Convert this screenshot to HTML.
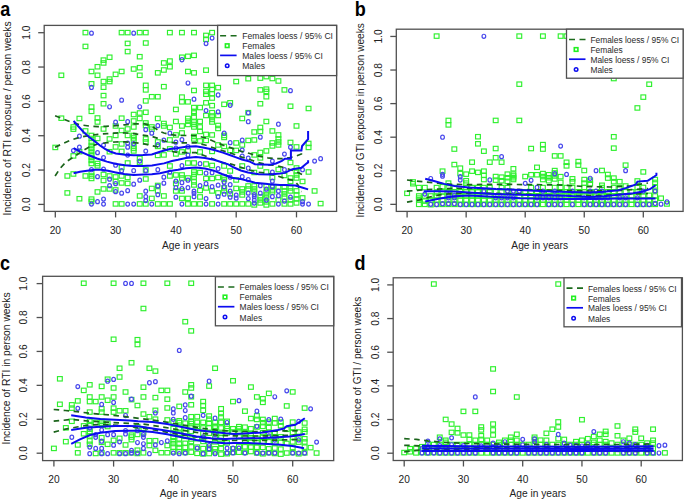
<!DOCTYPE html>
<html><head><meta charset="utf-8"><style>
html,body{margin:0;padding:0;background:#fff;width:685px;height:501px;overflow:hidden}
svg{display:block;font-family:"Liberation Sans", sans-serif}
</style></head><body>
<svg width="685" height="501" viewBox="0 0 685 501">
<rect width="685" height="501" fill="#fff"/>
<g fill="none" stroke="#2ef02e" stroke-width="1.15"><rect x="83.05" y="30.4" width="4.8" height="4.4"/><rect x="119.23" y="30.4" width="4.8" height="4.4"/><rect x="125.26" y="30.4" width="4.8" height="4.4"/><rect x="137.32" y="30.4" width="4.8" height="4.4"/><rect x="125.26" y="41.21" width="4.8" height="4.4"/><rect x="83.05" y="44.24" width="4.8" height="4.4"/><rect x="125.26" y="49.37" width="4.8" height="4.4"/><rect x="107.17" y="55.05" width="4.8" height="4.4"/><rect x="137.32" y="54.49" width="4.8" height="4.4"/><rect x="101.14" y="57.9" width="4.8" height="4.4"/><rect x="101.14" y="60.75" width="4.8" height="4.4"/><rect x="95.11" y="64.55" width="4.8" height="4.4"/><rect x="131.29" y="66.81" width="4.8" height="4.4"/><rect x="137.32" y="65.49" width="4.8" height="4.4"/><rect x="89.08" y="69.29" width="4.8" height="4.4"/><rect x="119.23" y="69.29" width="4.8" height="4.4"/><rect x="113.2" y="72.14" width="4.8" height="4.4"/><rect x="58.93" y="73.08" width="4.8" height="4.4"/><rect x="95.11" y="73.08" width="4.8" height="4.4"/><rect x="137.32" y="73.08" width="4.8" height="4.4"/><rect x="107.17" y="76.88" width="4.8" height="4.4"/><rect x="101.14" y="79.35" width="4.8" height="4.4"/><rect x="107.17" y="79.35" width="4.8" height="4.4"/><rect x="89.08" y="81.62" width="4.8" height="4.4"/><rect x="101.14" y="85.03" width="4.8" height="4.4"/><rect x="101.14" y="93.39" width="4.8" height="4.4"/><rect x="101.14" y="101.55" width="4.8" height="4.4"/><rect x="89.08" y="104.78" width="4.8" height="4.4"/><rect x="89.08" y="109.14" width="4.8" height="4.4"/><rect x="143.35" y="30.4" width="4.8" height="4.4"/><rect x="167.47" y="30.4" width="4.8" height="4.4"/><rect x="179.53" y="30.4" width="4.8" height="4.4"/><rect x="191.59" y="30.4" width="4.8" height="4.4"/><rect x="209.68" y="30.4" width="4.8" height="4.4"/><rect x="203.65" y="33.23" width="4.8" height="4.4"/><rect x="203.65" y="37.02" width="4.8" height="4.4"/><rect x="143.35" y="40.82" width="4.8" height="4.4"/><rect x="179.53" y="55.05" width="4.8" height="4.4"/><rect x="185.56" y="54.11" width="4.8" height="4.4"/><rect x="191.59" y="53.16" width="4.8" height="4.4"/><rect x="161.44" y="60.75" width="4.8" height="4.4"/><rect x="167.47" y="58.85" width="4.8" height="4.4"/><rect x="167.47" y="64.55" width="4.8" height="4.4"/><rect x="161.44" y="67.78" width="4.8" height="4.4"/><rect x="155.41" y="70.63" width="4.8" height="4.4"/><rect x="185.56" y="69.29" width="4.8" height="4.4"/><rect x="191.59" y="70.63" width="4.8" height="4.4"/><rect x="203.65" y="67.96" width="4.8" height="4.4"/><rect x="143.35" y="83.14" width="4.8" height="4.4"/><rect x="143.35" y="87.69" width="4.8" height="4.4"/><rect x="161.44" y="84.47" width="4.8" height="4.4"/><rect x="203.65" y="83.14" width="4.8" height="4.4"/><rect x="209.68" y="83.14" width="4.8" height="4.4"/><rect x="215.71" y="85.43" width="4.8" height="4.4"/><rect x="209.68" y="87.32" width="4.8" height="4.4"/><rect x="203.65" y="89.22" width="4.8" height="4.4"/><rect x="203.65" y="92.05" width="4.8" height="4.4"/><rect x="209.68" y="91.49" width="4.8" height="4.4"/><rect x="191.59" y="88.26" width="4.8" height="4.4"/><rect x="149.38" y="94.53" width="4.8" height="4.4"/><rect x="155.41" y="94.53" width="4.8" height="4.4"/><rect x="143.35" y="98.7" width="4.8" height="4.4"/><rect x="179.53" y="94.9" width="4.8" height="4.4"/><rect x="179.53" y="99.64" width="4.8" height="4.4"/><rect x="185.56" y="99.64" width="4.8" height="4.4"/><rect x="209.68" y="95.85" width="4.8" height="4.4"/><rect x="203.65" y="100.61" width="4.8" height="4.4"/><rect x="221.74" y="102.12" width="4.8" height="4.4"/><rect x="227.77" y="100.61" width="4.8" height="4.4"/><rect x="173.5" y="107.23" width="4.8" height="4.4"/><rect x="191.59" y="105.34" width="4.8" height="4.4"/><rect x="191.59" y="109.14" width="4.8" height="4.4"/><rect x="197.62" y="105.34" width="4.8" height="4.4"/><rect x="209.68" y="103.44" width="4.8" height="4.4"/><rect x="143.35" y="110.08" width="4.8" height="4.4"/><rect x="209.68" y="110.46" width="4.8" height="4.4"/><rect x="233.8" y="79.35" width="4.8" height="4.4"/><rect x="245.86" y="76.5" width="4.8" height="4.4"/><rect x="257.92" y="75.93" width="4.8" height="4.4"/><rect x="263.95" y="74.42" width="4.8" height="4.4"/><rect x="269.98" y="76.31" width="4.8" height="4.4"/><rect x="276.01" y="78.78" width="4.8" height="4.4"/><rect x="257.92" y="87.69" width="4.8" height="4.4"/><rect x="263.95" y="86.94" width="4.8" height="4.4"/><rect x="263.95" y="89.22" width="4.8" height="4.4"/><rect x="263.95" y="94.53" width="4.8" height="4.4"/><rect x="282.04" y="87.69" width="4.8" height="4.4"/><rect x="257.92" y="101.55" width="4.8" height="4.4"/><rect x="288.07" y="104.02" width="4.8" height="4.4"/><rect x="306.16" y="106.29" width="4.8" height="4.4"/><rect x="245.86" y="110.46" width="4.8" height="4.4"/><rect x="58.93" y="115.99" width="4.8" height="4.4"/><rect x="77.02" y="116.28" width="4.8" height="4.4"/><rect x="70.99" y="124.76" width="4.8" height="4.4"/><rect x="70.99" y="126.96" width="4.8" height="4.4"/><rect x="83.05" y="128.76" width="4.8" height="4.4"/><rect x="52.9" y="145.23" width="4.8" height="4.4"/><rect x="77.02" y="149.52" width="4.8" height="4.4"/><rect x="70.99" y="153.71" width="4.8" height="4.4"/><rect x="89.08" y="133.25" width="4.8" height="4.4"/><rect x="89.08" y="136.25" width="4.8" height="4.4"/><rect x="89.08" y="140.23" width="4.8" height="4.4"/><rect x="89.08" y="143.24" width="4.8" height="4.4"/><rect x="89.08" y="146.23" width="4.8" height="4.4"/><rect x="89.08" y="149.21" width="4.8" height="4.4"/><rect x="89.08" y="152.22" width="4.8" height="4.4"/><rect x="89.08" y="155.21" width="4.8" height="4.4"/><rect x="89.08" y="158.21" width="4.8" height="4.4"/><rect x="95.11" y="115.78" width="4.8" height="4.4"/><rect x="95.11" y="119.78" width="4.8" height="4.4"/><rect x="95.11" y="136.25" width="4.8" height="4.4"/><rect x="101.14" y="126.77" width="4.8" height="4.4"/><rect x="107.17" y="136.75" width="4.8" height="4.4"/><rect x="107.17" y="149.52" width="4.8" height="4.4"/><rect x="113.2" y="123.77" width="4.8" height="4.4"/><rect x="113.2" y="133.25" width="4.8" height="4.4"/><rect x="113.2" y="144.73" width="4.8" height="4.4"/><rect x="119.23" y="115.99" width="4.8" height="4.4"/><rect x="119.23" y="128.27" width="4.8" height="4.4"/><rect x="119.23" y="141.74" width="4.8" height="4.4"/><rect x="119.23" y="149.21" width="4.8" height="4.4"/><rect x="125.26" y="126.77" width="4.8" height="4.4"/><rect x="125.26" y="133.25" width="4.8" height="4.4"/><rect x="64.96" y="173.77" width="4.8" height="4.4"/><rect x="70.99" y="171.77" width="4.8" height="4.4"/><rect x="83.05" y="173.77" width="4.8" height="4.4"/><rect x="64.96" y="190.73" width="4.8" height="4.4"/><rect x="77.02" y="196.53" width="4.8" height="4.4"/><rect x="89.08" y="161.3" width="4.8" height="4.4"/><rect x="89.08" y="170.28" width="4.8" height="4.4"/><rect x="89.08" y="173.77" width="4.8" height="4.4"/><rect x="89.08" y="176.27" width="4.8" height="4.4"/><rect x="89.08" y="196.93" width="4.8" height="4.4"/><rect x="89.08" y="199.23" width="4.8" height="4.4"/><rect x="95.11" y="161.3" width="4.8" height="4.4"/><rect x="95.11" y="163.58" width="4.8" height="4.4"/><rect x="95.11" y="189.73" width="4.8" height="4.4"/><rect x="101.14" y="172.27" width="4.8" height="4.4"/><rect x="101.14" y="178.27" width="4.8" height="4.4"/><rect x="101.14" y="186.75" width="4.8" height="4.4"/><rect x="107.17" y="173.77" width="4.8" height="4.4"/><rect x="107.17" y="186.75" width="4.8" height="4.4"/><rect x="113.2" y="174.76" width="4.8" height="4.4"/><rect x="113.2" y="179.26" width="4.8" height="4.4"/><rect x="113.2" y="187.74" width="4.8" height="4.4"/><rect x="113.2" y="201.72" width="4.8" height="4.4"/><rect x="119.23" y="165.28" width="4.8" height="4.4"/><rect x="119.23" y="173.77" width="4.8" height="4.4"/><rect x="119.23" y="180.75" width="4.8" height="4.4"/><rect x="119.23" y="201.72" width="4.8" height="4.4"/><rect x="125.26" y="160.8" width="4.8" height="4.4"/><rect x="125.26" y="175.28" width="4.8" height="4.4"/><rect x="125.26" y="181.25" width="4.8" height="4.4"/><rect x="131.29" y="112.3" width="4.8" height="4.4"/><rect x="131.29" y="118.79" width="4.8" height="4.4"/><rect x="131.29" y="124.76" width="4.8" height="4.4"/><rect x="131.29" y="133.25" width="4.8" height="4.4"/><rect x="131.29" y="135.75" width="4.8" height="4.4"/><rect x="131.29" y="138.24" width="4.8" height="4.4"/><rect x="131.29" y="143.74" width="4.8" height="4.4"/><rect x="131.29" y="146.23" width="4.8" height="4.4"/><rect x="131.29" y="148.72" width="4.8" height="4.4"/><rect x="137.32" y="110.8" width="4.8" height="4.4"/><rect x="137.32" y="116.28" width="4.8" height="4.4"/><rect x="137.32" y="156.2" width="4.8" height="4.4"/><rect x="143.35" y="120.78" width="4.8" height="4.4"/><rect x="143.35" y="123.27" width="4.8" height="4.4"/><rect x="143.35" y="136.75" width="4.8" height="4.4"/><rect x="143.35" y="139.74" width="4.8" height="4.4"/><rect x="149.38" y="124.76" width="4.8" height="4.4"/><rect x="149.38" y="126.96" width="4.8" height="4.4"/><rect x="155.41" y="116.28" width="4.8" height="4.4"/><rect x="155.41" y="139.74" width="4.8" height="4.4"/><rect x="155.41" y="144.23" width="4.8" height="4.4"/><rect x="155.41" y="153.21" width="4.8" height="4.4"/><rect x="161.44" y="121.28" width="4.8" height="4.4"/><rect x="161.44" y="123.77" width="4.8" height="4.4"/><rect x="161.44" y="152.72" width="4.8" height="4.4"/><rect x="167.47" y="125.26" width="4.8" height="4.4"/><rect x="167.47" y="137.74" width="4.8" height="4.4"/><rect x="167.47" y="146.72" width="4.8" height="4.4"/><rect x="173.5" y="119.29" width="4.8" height="4.4"/><rect x="173.5" y="132.75" width="4.8" height="4.4"/><rect x="173.5" y="151.72" width="4.8" height="4.4"/><rect x="137.32" y="160.31" width="4.8" height="4.4"/><rect x="137.32" y="193.74" width="4.8" height="4.4"/><rect x="137.32" y="201.72" width="4.8" height="4.4"/><rect x="143.35" y="167.79" width="4.8" height="4.4"/><rect x="143.35" y="176.77" width="4.8" height="4.4"/><rect x="143.35" y="201.72" width="4.8" height="4.4"/><rect x="149.38" y="186.25" width="4.8" height="4.4"/><rect x="149.38" y="196.22" width="4.8" height="4.4"/><rect x="155.41" y="183.26" width="4.8" height="4.4"/><rect x="155.41" y="188.74" width="4.8" height="4.4"/><rect x="155.41" y="201.72" width="4.8" height="4.4"/><rect x="161.44" y="193.74" width="4.8" height="4.4"/><rect x="161.44" y="201.72" width="4.8" height="4.4"/><rect x="167.47" y="163.79" width="4.8" height="4.4"/><rect x="167.47" y="173.77" width="4.8" height="4.4"/><rect x="167.47" y="201.72" width="4.8" height="4.4"/><rect x="173.5" y="172.77" width="4.8" height="4.4"/><rect x="173.5" y="181.25" width="4.8" height="4.4"/><rect x="173.5" y="188.74" width="4.8" height="4.4"/><rect x="179.53" y="123.77" width="4.8" height="4.4"/><rect x="179.53" y="130.76" width="4.8" height="4.4"/><rect x="179.53" y="149.73" width="4.8" height="4.4"/><rect x="185.56" y="116.28" width="4.8" height="4.4"/><rect x="185.56" y="118.98" width="4.8" height="4.4"/><rect x="185.56" y="122.27" width="4.8" height="4.4"/><rect x="185.56" y="148.72" width="4.8" height="4.4"/><rect x="191.59" y="110.8" width="4.8" height="4.4"/><rect x="191.59" y="114.79" width="4.8" height="4.4"/><rect x="191.59" y="119.78" width="4.8" height="4.4"/><rect x="191.59" y="122.27" width="4.8" height="4.4"/><rect x="191.59" y="124.76" width="4.8" height="4.4"/><rect x="191.59" y="134.26" width="4.8" height="4.4"/><rect x="191.59" y="136.75" width="4.8" height="4.4"/><rect x="197.62" y="119.29" width="4.8" height="4.4"/><rect x="197.62" y="124.76" width="4.8" height="4.4"/><rect x="197.62" y="129.26" width="4.8" height="4.4"/><rect x="197.62" y="138.74" width="4.8" height="4.4"/><rect x="197.62" y="149.73" width="4.8" height="4.4"/><rect x="203.65" y="113.29" width="4.8" height="4.4"/><rect x="203.65" y="132.25" width="4.8" height="4.4"/><rect x="203.65" y="138.24" width="4.8" height="4.4"/><rect x="209.68" y="113.79" width="4.8" height="4.4"/><rect x="209.68" y="117.28" width="4.8" height="4.4"/><rect x="209.68" y="119.78" width="4.8" height="4.4"/><rect x="209.68" y="132.75" width="4.8" height="4.4"/><rect x="209.68" y="149.21" width="4.8" height="4.4"/><rect x="215.71" y="113.29" width="4.8" height="4.4"/><rect x="215.71" y="123.27" width="4.8" height="4.4"/><rect x="215.71" y="126.27" width="4.8" height="4.4"/><rect x="215.71" y="142.74" width="4.8" height="4.4"/><rect x="221.74" y="135.25" width="4.8" height="4.4"/><rect x="179.53" y="172.77" width="4.8" height="4.4"/><rect x="179.53" y="175.78" width="4.8" height="4.4"/><rect x="179.53" y="188.74" width="4.8" height="4.4"/><rect x="179.53" y="196.22" width="4.8" height="4.4"/><rect x="185.56" y="160.8" width="4.8" height="4.4"/><rect x="185.56" y="175.78" width="4.8" height="4.4"/><rect x="185.56" y="196.22" width="4.8" height="4.4"/><rect x="185.56" y="201.72" width="4.8" height="4.4"/><rect x="191.59" y="160.8" width="4.8" height="4.4"/><rect x="191.59" y="169.78" width="4.8" height="4.4"/><rect x="191.59" y="172.27" width="4.8" height="4.4"/><rect x="191.59" y="174.76" width="4.8" height="4.4"/><rect x="191.59" y="179.76" width="4.8" height="4.4"/><rect x="191.59" y="182.75" width="4.8" height="4.4"/><rect x="191.59" y="201.72" width="4.8" height="4.4"/><rect x="197.62" y="170.28" width="4.8" height="4.4"/><rect x="197.62" y="188.24" width="4.8" height="4.4"/><rect x="197.62" y="194.73" width="4.8" height="4.4"/><rect x="197.62" y="201.72" width="4.8" height="4.4"/><rect x="203.65" y="161.8" width="4.8" height="4.4"/><rect x="203.65" y="176.27" width="4.8" height="4.4"/><rect x="203.65" y="185.75" width="4.8" height="4.4"/><rect x="209.68" y="163.29" width="4.8" height="4.4"/><rect x="209.68" y="176.27" width="4.8" height="4.4"/><rect x="209.68" y="188.74" width="4.8" height="4.4"/><rect x="209.68" y="201.72" width="4.8" height="4.4"/><rect x="215.71" y="175.28" width="4.8" height="4.4"/><rect x="215.71" y="190.73" width="4.8" height="4.4"/><rect x="221.74" y="188.74" width="4.8" height="4.4"/><rect x="221.74" y="133.25" width="4.8" height="4.4"/><rect x="221.74" y="144.23" width="4.8" height="4.4"/><rect x="227.77" y="148.22" width="4.8" height="4.4"/><rect x="233.8" y="140.73" width="4.8" height="4.4"/><rect x="233.8" y="148.22" width="4.8" height="4.4"/><rect x="239.83" y="116.28" width="4.8" height="4.4"/><rect x="239.83" y="142.74" width="4.8" height="4.4"/><rect x="245.86" y="138.24" width="4.8" height="4.4"/><rect x="251.89" y="129.76" width="4.8" height="4.4"/><rect x="251.89" y="137.74" width="4.8" height="4.4"/><rect x="251.89" y="152.72" width="4.8" height="4.4"/><rect x="257.92" y="125.26" width="4.8" height="4.4"/><rect x="257.92" y="129.26" width="4.8" height="4.4"/><rect x="257.92" y="150.23" width="4.8" height="4.4"/><rect x="257.92" y="155.7" width="4.8" height="4.4"/><rect x="263.95" y="119.29" width="4.8" height="4.4"/><rect x="263.95" y="148.72" width="4.8" height="4.4"/><rect x="221.74" y="163.79" width="4.8" height="4.4"/><rect x="221.74" y="174.76" width="4.8" height="4.4"/><rect x="221.74" y="177.27" width="4.8" height="4.4"/><rect x="221.74" y="185.75" width="4.8" height="4.4"/><rect x="221.74" y="201.72" width="4.8" height="4.4"/><rect x="227.77" y="168.79" width="4.8" height="4.4"/><rect x="227.77" y="191.74" width="4.8" height="4.4"/><rect x="227.77" y="201.72" width="4.8" height="4.4"/><rect x="233.8" y="177.77" width="4.8" height="4.4"/><rect x="233.8" y="186.25" width="4.8" height="4.4"/><rect x="233.8" y="201.72" width="4.8" height="4.4"/><rect x="239.83" y="163.79" width="4.8" height="4.4"/><rect x="239.83" y="186.75" width="4.8" height="4.4"/><rect x="239.83" y="189.73" width="4.8" height="4.4"/><rect x="239.83" y="192.74" width="4.8" height="4.4"/><rect x="239.83" y="201.72" width="4.8" height="4.4"/><rect x="245.86" y="183.76" width="4.8" height="4.4"/><rect x="245.86" y="186.75" width="4.8" height="4.4"/><rect x="245.86" y="201.72" width="4.8" height="4.4"/><rect x="251.89" y="170.28" width="4.8" height="4.4"/><rect x="251.89" y="183.76" width="4.8" height="4.4"/><rect x="251.89" y="186.75" width="4.8" height="4.4"/><rect x="251.89" y="189.73" width="4.8" height="4.4"/><rect x="251.89" y="202.72" width="4.8" height="4.4"/><rect x="257.92" y="163.79" width="4.8" height="4.4"/><rect x="257.92" y="194.73" width="4.8" height="4.4"/><rect x="257.92" y="197.72" width="4.8" height="4.4"/><rect x="257.92" y="200.72" width="4.8" height="4.4"/><rect x="263.95" y="169.78" width="4.8" height="4.4"/><rect x="263.95" y="183.76" width="4.8" height="4.4"/><rect x="263.95" y="189.73" width="4.8" height="4.4"/><rect x="263.95" y="192.74" width="4.8" height="4.4"/><rect x="263.95" y="195.73" width="4.8" height="4.4"/><rect x="263.95" y="199.73" width="4.8" height="4.4"/><rect x="263.95" y="202.72" width="4.8" height="4.4"/><rect x="269.98" y="189.73" width="4.8" height="4.4"/><rect x="269.98" y="128.76" width="4.8" height="4.4"/><rect x="269.98" y="140.73" width="4.8" height="4.4"/><rect x="269.98" y="143.74" width="4.8" height="4.4"/><rect x="276.01" y="132.75" width="4.8" height="4.4"/><rect x="276.01" y="136.75" width="4.8" height="4.4"/><rect x="276.01" y="139.74" width="4.8" height="4.4"/><rect x="276.01" y="142.74" width="4.8" height="4.4"/><rect x="288.07" y="140.23" width="4.8" height="4.4"/><rect x="294.1" y="123.77" width="4.8" height="4.4"/><rect x="294.1" y="144.73" width="4.8" height="4.4"/><rect x="306.16" y="141.23" width="4.8" height="4.4"/><rect x="306.16" y="145.23" width="4.8" height="4.4"/><rect x="269.98" y="175.28" width="4.8" height="4.4"/><rect x="269.98" y="184.76" width="4.8" height="4.4"/><rect x="269.98" y="187.74" width="4.8" height="4.4"/><rect x="269.98" y="201.72" width="4.8" height="4.4"/><rect x="276.01" y="167.29" width="4.8" height="4.4"/><rect x="276.01" y="184.76" width="4.8" height="4.4"/><rect x="276.01" y="197.72" width="4.8" height="4.4"/><rect x="282.04" y="173.27" width="4.8" height="4.4"/><rect x="282.04" y="184.76" width="4.8" height="4.4"/><rect x="282.04" y="188.74" width="4.8" height="4.4"/><rect x="282.04" y="191.74" width="4.8" height="4.4"/><rect x="282.04" y="194.73" width="4.8" height="4.4"/><rect x="282.04" y="201.72" width="4.8" height="4.4"/><rect x="288.07" y="160.31" width="4.8" height="4.4"/><rect x="288.07" y="175.78" width="4.8" height="4.4"/><rect x="288.07" y="179.26" width="4.8" height="4.4"/><rect x="288.07" y="185.75" width="4.8" height="4.4"/><rect x="288.07" y="188.74" width="4.8" height="4.4"/><rect x="288.07" y="197.72" width="4.8" height="4.4"/><rect x="288.07" y="201.72" width="4.8" height="4.4"/><rect x="294.1" y="165.78" width="4.8" height="4.4"/><rect x="294.1" y="169.29" width="4.8" height="4.4"/><rect x="294.1" y="172.77" width="4.8" height="4.4"/><rect x="294.1" y="175.78" width="4.8" height="4.4"/><rect x="294.1" y="188.74" width="4.8" height="4.4"/><rect x="294.1" y="192.74" width="4.8" height="4.4"/><rect x="294.1" y="196.72" width="4.8" height="4.4"/><rect x="294.1" y="200.72" width="4.8" height="4.4"/><rect x="300.13" y="179.26" width="4.8" height="4.4"/><rect x="300.13" y="195.73" width="4.8" height="4.4"/><rect x="306.16" y="169.78" width="4.8" height="4.4"/><rect x="312.19" y="188.74" width="4.8" height="4.4"/><rect x="318.22" y="201.39" width="4.8" height="4.4"/></g>
<g fill="none" stroke="#4848ec" stroke-width="1.2"><ellipse cx="91.48" cy="33.17" rx="1.85" ry="2.05"/><ellipse cx="133.69" cy="33.17" rx="1.85" ry="2.05"/><ellipse cx="91.48" cy="87.43" rx="1.85" ry="2.05"/><ellipse cx="121.63" cy="100.15" rx="1.85" ry="2.05"/><ellipse cx="109.57" cy="106.8" rx="1.85" ry="2.05"/><ellipse cx="139.72" cy="106.8" rx="1.85" ry="2.05"/><ellipse cx="212.08" cy="38.1" rx="1.85" ry="2.05"/><ellipse cx="206.05" cy="43.61" rx="1.85" ry="2.05"/><ellipse cx="181.93" cy="59.74" rx="1.85" ry="2.05"/><ellipse cx="187.96" cy="83.07" rx="1.85" ry="2.05"/><ellipse cx="218.11" cy="95.02" rx="1.85" ry="2.05"/><ellipse cx="193.99" cy="99.21" rx="1.85" ry="2.05"/><ellipse cx="230.17" cy="105.27" rx="1.85" ry="2.05"/><ellipse cx="206.05" cy="110.59" rx="1.85" ry="2.05"/><ellipse cx="218.11" cy="111.92" rx="1.85" ry="2.05"/><ellipse cx="290.47" cy="90.66" rx="1.85" ry="2.05"/><ellipse cx="248.26" cy="112.86" rx="1.85" ry="2.05"/><ellipse cx="79.42" cy="136.16" rx="1.85" ry="2.05"/><ellipse cx="79.42" cy="147.13" rx="1.85" ry="2.05"/><ellipse cx="73.39" cy="150.62" rx="1.85" ry="2.05"/><ellipse cx="103.54" cy="145.14" rx="1.85" ry="2.05"/><ellipse cx="97.51" cy="152.63" rx="1.85" ry="2.05"/><ellipse cx="103.54" cy="157.61" rx="1.85" ry="2.05"/><ellipse cx="115.6" cy="122.18" rx="1.85" ry="2.05"/><ellipse cx="127.66" cy="121.69" rx="1.85" ry="2.05"/><ellipse cx="127.66" cy="143.13" rx="1.85" ry="2.05"/><ellipse cx="127.66" cy="147.13" rx="1.85" ry="2.05"/><ellipse cx="127.66" cy="155.12" rx="1.85" ry="2.05"/><ellipse cx="91.48" cy="169.69" rx="1.85" ry="2.05"/><ellipse cx="91.48" cy="204.12" rx="1.85" ry="2.05"/><ellipse cx="97.51" cy="176.66" rx="1.85" ry="2.05"/><ellipse cx="97.51" cy="201.63" rx="1.85" ry="2.05"/><ellipse cx="103.54" cy="169.18" rx="1.85" ry="2.05"/><ellipse cx="103.54" cy="199.12" rx="1.85" ry="2.05"/><ellipse cx="103.54" cy="204.12" rx="1.85" ry="2.05"/><ellipse cx="109.57" cy="179.17" rx="1.85" ry="2.05"/><ellipse cx="109.57" cy="185.66" rx="1.85" ry="2.05"/><ellipse cx="115.6" cy="165.19" rx="1.85" ry="2.05"/><ellipse cx="115.6" cy="183.65" rx="1.85" ry="2.05"/><ellipse cx="115.6" cy="191.64" rx="1.85" ry="2.05"/><ellipse cx="121.63" cy="170.69" rx="1.85" ry="2.05"/><ellipse cx="121.63" cy="193.13" rx="1.85" ry="2.05"/><ellipse cx="127.66" cy="190.64" rx="1.85" ry="2.05"/><ellipse cx="127.66" cy="204.12" rx="1.85" ry="2.05"/><ellipse cx="133.69" cy="143.63" rx="1.85" ry="2.05"/><ellipse cx="139.72" cy="161.11" rx="1.85" ry="2.05"/><ellipse cx="145.75" cy="129.67" rx="1.85" ry="2.05"/><ellipse cx="145.75" cy="151.12" rx="1.85" ry="2.05"/><ellipse cx="151.78" cy="133.16" rx="1.85" ry="2.05"/><ellipse cx="157.81" cy="125.67" rx="1.85" ry="2.05"/><ellipse cx="157.81" cy="144.64" rx="1.85" ry="2.05"/><ellipse cx="163.84" cy="140.14" rx="1.85" ry="2.05"/><ellipse cx="169.87" cy="133.16" rx="1.85" ry="2.05"/><ellipse cx="175.9" cy="142.14" rx="1.85" ry="2.05"/><ellipse cx="175.9" cy="148.13" rx="1.85" ry="2.05"/><ellipse cx="133.69" cy="170.69" rx="1.85" ry="2.05"/><ellipse cx="133.69" cy="184.15" rx="1.85" ry="2.05"/><ellipse cx="133.69" cy="204.12" rx="1.85" ry="2.05"/><ellipse cx="139.72" cy="180.17" rx="1.85" ry="2.05"/><ellipse cx="145.75" cy="170.69" rx="1.85" ry="2.05"/><ellipse cx="145.75" cy="191.14" rx="1.85" ry="2.05"/><ellipse cx="145.75" cy="196.63" rx="1.85" ry="2.05"/><ellipse cx="145.75" cy="200.62" rx="1.85" ry="2.05"/><ellipse cx="151.78" cy="204.12" rx="1.85" ry="2.05"/><ellipse cx="157.81" cy="169.69" rx="1.85" ry="2.05"/><ellipse cx="157.81" cy="186.16" rx="1.85" ry="2.05"/><ellipse cx="157.81" cy="194.64" rx="1.85" ry="2.05"/><ellipse cx="163.84" cy="177.16" rx="1.85" ry="2.05"/><ellipse cx="163.84" cy="183.15" rx="1.85" ry="2.05"/><ellipse cx="169.87" cy="172.18" rx="1.85" ry="2.05"/><ellipse cx="175.9" cy="181.16" rx="1.85" ry="2.05"/><ellipse cx="175.9" cy="187.65" rx="1.85" ry="2.05"/><ellipse cx="175.9" cy="197.13" rx="1.85" ry="2.05"/><ellipse cx="181.93" cy="139.65" rx="1.85" ry="2.05"/><ellipse cx="187.96" cy="146.63" rx="1.85" ry="2.05"/><ellipse cx="187.96" cy="155.12" rx="1.85" ry="2.05"/><ellipse cx="224.14" cy="133.16" rx="1.85" ry="2.05"/><ellipse cx="181.93" cy="165.69" rx="1.85" ry="2.05"/><ellipse cx="181.93" cy="182.66" rx="1.85" ry="2.05"/><ellipse cx="181.93" cy="188.65" rx="1.85" ry="2.05"/><ellipse cx="181.93" cy="204.12" rx="1.85" ry="2.05"/><ellipse cx="187.96" cy="180.17" rx="1.85" ry="2.05"/><ellipse cx="187.96" cy="187.65" rx="1.85" ry="2.05"/><ellipse cx="193.99" cy="191.14" rx="1.85" ry="2.05"/><ellipse cx="193.99" cy="193.34" rx="1.85" ry="2.05"/><ellipse cx="193.99" cy="196.63" rx="1.85" ry="2.05"/><ellipse cx="200.02" cy="163.7" rx="1.85" ry="2.05"/><ellipse cx="200.02" cy="185.66" rx="1.85" ry="2.05"/><ellipse cx="206.05" cy="173.18" rx="1.85" ry="2.05"/><ellipse cx="206.05" cy="183.65" rx="1.85" ry="2.05"/><ellipse cx="206.05" cy="198.62" rx="1.85" ry="2.05"/><ellipse cx="206.05" cy="204.12" rx="1.85" ry="2.05"/><ellipse cx="212.08" cy="172.68" rx="1.85" ry="2.05"/><ellipse cx="212.08" cy="186.66" rx="1.85" ry="2.05"/><ellipse cx="218.11" cy="168.68" rx="1.85" ry="2.05"/><ellipse cx="218.11" cy="185.15" rx="1.85" ry="2.05"/><ellipse cx="218.11" cy="196.63" rx="1.85" ry="2.05"/><ellipse cx="218.11" cy="204.12" rx="1.85" ry="2.05"/><ellipse cx="224.14" cy="182.16" rx="1.85" ry="2.05"/><ellipse cx="224.14" cy="186.66" rx="1.85" ry="2.05"/><ellipse cx="224.14" cy="194.14" rx="1.85" ry="2.05"/><ellipse cx="230.17" cy="142.63" rx="1.85" ry="2.05"/><ellipse cx="242.23" cy="140.14" rx="1.85" ry="2.05"/><ellipse cx="242.23" cy="150.12" rx="1.85" ry="2.05"/><ellipse cx="242.23" cy="156.11" rx="1.85" ry="2.05"/><ellipse cx="248.26" cy="121.69" rx="1.85" ry="2.05"/><ellipse cx="248.26" cy="158.1" rx="1.85" ry="2.05"/><ellipse cx="260.32" cy="137.16" rx="1.85" ry="2.05"/><ellipse cx="230.17" cy="177.16" rx="1.85" ry="2.05"/><ellipse cx="230.17" cy="184.65" rx="1.85" ry="2.05"/><ellipse cx="230.17" cy="191.14" rx="1.85" ry="2.05"/><ellipse cx="230.17" cy="197.13" rx="1.85" ry="2.05"/><ellipse cx="236.2" cy="195.14" rx="1.85" ry="2.05"/><ellipse cx="236.2" cy="198.13" rx="1.85" ry="2.05"/><ellipse cx="242.23" cy="176.66" rx="1.85" ry="2.05"/><ellipse cx="248.26" cy="168.18" rx="1.85" ry="2.05"/><ellipse cx="248.26" cy="179.67" rx="1.85" ry="2.05"/><ellipse cx="248.26" cy="193.13" rx="1.85" ry="2.05"/><ellipse cx="248.26" cy="198.62" rx="1.85" ry="2.05"/><ellipse cx="254.29" cy="194.64" rx="1.85" ry="2.05"/><ellipse cx="254.29" cy="196.63" rx="1.85" ry="2.05"/><ellipse cx="254.29" cy="200.12" rx="1.85" ry="2.05"/><ellipse cx="254.29" cy="203.12" rx="1.85" ry="2.05"/><ellipse cx="260.32" cy="185.66" rx="1.85" ry="2.05"/><ellipse cx="260.32" cy="193.13" rx="1.85" ry="2.05"/><ellipse cx="266.35" cy="189.15" rx="1.85" ry="2.05"/><ellipse cx="266.35" cy="200.12" rx="1.85" ry="2.05"/><ellipse cx="272.38" cy="196.63" rx="1.85" ry="2.05"/><ellipse cx="278.41" cy="124.18" rx="1.85" ry="2.05"/><ellipse cx="284.44" cy="154.12" rx="1.85" ry="2.05"/><ellipse cx="290.47" cy="147.13" rx="1.85" ry="2.05"/><ellipse cx="314.59" cy="161.11" rx="1.85" ry="2.05"/><ellipse cx="272.38" cy="161.11" rx="1.85" ry="2.05"/><ellipse cx="272.38" cy="172.18" rx="1.85" ry="2.05"/><ellipse cx="272.38" cy="181.16" rx="1.85" ry="2.05"/><ellipse cx="272.38" cy="186.66" rx="1.85" ry="2.05"/><ellipse cx="278.41" cy="191.14" rx="1.85" ry="2.05"/><ellipse cx="278.41" cy="195.64" rx="1.85" ry="2.05"/><ellipse cx="278.41" cy="204.12" rx="1.85" ry="2.05"/><ellipse cx="284.44" cy="169.69" rx="1.85" ry="2.05"/><ellipse cx="284.44" cy="201.11" rx="1.85" ry="2.05"/><ellipse cx="290.47" cy="197.13" rx="1.85" ry="2.05"/><ellipse cx="302.53" cy="169.69" rx="1.85" ry="2.05"/><ellipse cx="302.53" cy="201.63" rx="1.85" ry="2.05"/><ellipse cx="302.53" cy="204.12" rx="1.85" ry="2.05"/><ellipse cx="308.56" cy="204.12" rx="1.85" ry="2.05"/><ellipse cx="320.62" cy="158.7" rx="1.85" ry="2.05"/></g>
<polyline points="55.1,115.8 62,118.5 71,122 79.9,124.8 89,126 97.9,126.6 106,126.3 115.8,125.7 125,124.8 133.8,123.9 144.6,123.9 150,125.5 155.4,128.4 160,131.5 164,133 170,134.5 178,135.5 186,135.5 195.9,135.5 206.7,138.2 213,141 219.3,143.6 225,146 231.9,148.1 240,151 249.8,153.5 257,155.8 267.8,157.8 276,158.7 282,158.7 290,157.5 295.4,156.4 301.4,154 301.4,152" fill="none" stroke="#1a631a" stroke-width="1.7" stroke-dasharray="5.5 4.5"/>
<polyline points="55.1,147.2 62,144 71,140 80,137.3 89,135.5 98,134.3 106.9,133.7 114,133.2 121.2,132.8 127,133 133.8,133.7 142,135 151.8,136.4 158,138.5 164,141 170,142.5 178,143 186,142.9 195.9,142.7 205,145 214,148 222,150.5 231.9,153.5 240,156.5 249.8,159.5 258,162.5 267.8,164.8 276,165.4 282,167 290,169.5 296,171.5 303,175" fill="none" stroke="#1a631a" stroke-width="1.7" stroke-dasharray="5.5 4.5"/>
<polyline points="55.1,176 60,168.5 66,162 76.3,155.3 83,150.5 90.7,146.3 98,144 106.9,142.7 115,142 124.8,141.8 133,142.5 142.8,143.6 151,145.5 159,147.2 166,149.5 172,151.5 178,152.5 186,152.6 195.9,152.6 204,155.5 213,159 222,162.5 231.9,164.3 240,167 249.8,170 258,172.3 267.8,173.3 276,175.5 284,178 289.4,179.7 294,180.4 298,185 300,191 301.4,191.6" fill="none" stroke="#1a631a" stroke-width="1.7" stroke-dasharray="5.5 4.5"/>
<polyline points="73.6,120.8 78,126 83.5,132 89,137 94.3,140.9 100,145.5 105,149 110,151.5 115.8,153.5 125,154.8 133.8,155.3 143,155 151.8,154.4 160,151.7 170,149 178,148.1 186,146.8 195.9,146.3 203,147.5 210.3,149 216,150.5 222.9,152.6 229,154.8 235.4,157.1 242,159.5 249.8,161.6 255,164.2 262,164.5 270,164.7 276,163.5 281.9,160.9 284.9,158.7 290.9,158.7 290.9,150.5 301.4,150.5 302.1,146 308.1,139.2 308.1,131" fill="none" stroke="#0c0cf0" stroke-width="2.0"/>
<polyline points="73.6,148.1 80,151.5 88.9,155.3 97,158.5 106.9,161.6 115,163.8 124.8,165.2 133,166 142.8,166.1 152,165.5 164,163.4 172,161 178,159.8 186,158 195.9,157.1 205,158 213.9,159.8 221,162 228.3,164.3 234,167.5 240.8,170.5 248,172.5 258.8,174.2 270,174.4 280,173.5 284.9,172.9 292.4,169.2 301.4,167.7 305.9,164 308.1,162.4 308.1,160.2" fill="none" stroke="#0c0cf0" stroke-width="2.0"/>
<polyline points="73.6,173.3 80,171.8 88.9,170.6 95,169.8 101.5,169.7 108,170.8 115.8,172.4 124,174 133.8,175 143,174.6 151.8,174.2 160,173.3 170,171 178,169.7 186,168.2 195.9,167.5 205,168.5 213.9,170.6 222,174 231.9,177.7 240,178.9 249.8,181.3 255,182.7 267.8,184 280,184.9 285,184.9 295.4,185.6 302,187.5 308.1,189.4" fill="none" stroke="#0c0cf0" stroke-width="2.0"/>
<rect x="44.2" y="25.4" width="292.4" height="186" fill="none" stroke="#505050" stroke-width="1.3"/>
<line x1="38.2" x2="44.2" y1="204.4" y2="204.4" stroke="#505050" stroke-width="1.3"/>
<text x="30" y="204.4" transform="rotate(-90 30 204.4)" text-anchor="middle" font-size="10.2" textLength="14.18" lengthAdjust="spacingAndGlyphs" fill="#222222">0.0</text>
<line x1="38.2" x2="44.2" y1="170.06" y2="170.06" stroke="#505050" stroke-width="1.3"/>
<text x="30" y="170.06" transform="rotate(-90 30 170.06)" text-anchor="middle" font-size="10.2" textLength="14.18" lengthAdjust="spacingAndGlyphs" fill="#222222">0.2</text>
<line x1="38.2" x2="44.2" y1="135.72" y2="135.72" stroke="#505050" stroke-width="1.3"/>
<text x="30" y="135.72" transform="rotate(-90 30 135.72)" text-anchor="middle" font-size="10.2" textLength="14.18" lengthAdjust="spacingAndGlyphs" fill="#222222">0.4</text>
<line x1="38.2" x2="44.2" y1="101.38" y2="101.38" stroke="#505050" stroke-width="1.3"/>
<text x="30" y="101.38" transform="rotate(-90 30 101.38)" text-anchor="middle" font-size="10.2" textLength="14.18" lengthAdjust="spacingAndGlyphs" fill="#222222">0.6</text>
<line x1="38.2" x2="44.2" y1="67.04" y2="67.04" stroke="#505050" stroke-width="1.3"/>
<text x="30" y="67.04" transform="rotate(-90 30 67.04)" text-anchor="middle" font-size="10.2" textLength="14.18" lengthAdjust="spacingAndGlyphs" fill="#222222">0.8</text>
<line x1="38.2" x2="44.2" y1="32.7" y2="32.7" stroke="#505050" stroke-width="1.3"/>
<text x="30" y="32.7" transform="rotate(-90 30 32.7)" text-anchor="middle" font-size="10.2" textLength="14.18" lengthAdjust="spacingAndGlyphs" fill="#222222">1.0</text>
<line x1="55.3" x2="55.3" y1="211.4" y2="217.4" stroke="#505050" stroke-width="1.3"/>
<text x="55.3" y="233.6" text-anchor="middle" font-size="11.32" textLength="11.34" lengthAdjust="spacingAndGlyphs" fill="#222222">20</text>
<line x1="115.6" x2="115.6" y1="211.4" y2="217.4" stroke="#505050" stroke-width="1.3"/>
<text x="115.6" y="233.6" text-anchor="middle" font-size="11.32" textLength="11.34" lengthAdjust="spacingAndGlyphs" fill="#222222">30</text>
<line x1="175.9" x2="175.9" y1="211.4" y2="217.4" stroke="#505050" stroke-width="1.3"/>
<text x="175.9" y="233.6" text-anchor="middle" font-size="11.32" textLength="11.34" lengthAdjust="spacingAndGlyphs" fill="#222222">40</text>
<line x1="236.2" x2="236.2" y1="211.4" y2="217.4" stroke="#505050" stroke-width="1.3"/>
<text x="236.2" y="233.6" text-anchor="middle" font-size="11.32" textLength="11.34" lengthAdjust="spacingAndGlyphs" fill="#222222">50</text>
<line x1="296.5" x2="296.5" y1="211.4" y2="217.4" stroke="#505050" stroke-width="1.3"/>
<text x="296.5" y="233.6" text-anchor="middle" font-size="11.32" textLength="11.34" lengthAdjust="spacingAndGlyphs" fill="#222222">60</text>
<text x="190.4" y="248.8" text-anchor="middle" font-size="11.32" textLength="56.69" lengthAdjust="spacingAndGlyphs" fill="#222222">Age in years</text>
<text x="11.3" y="118.4" transform="rotate(-90 11.3 118.4)" text-anchor="middle" font-size="10.4" textLength="194.03" lengthAdjust="spacingAndGlyphs" fill="#222222">Incidence of RTI exposure / person weeks</text>
<text x="0.3" y="15.8" font-size="19.6" font-weight="bold" textLength="10.03" lengthAdjust="spacingAndGlyphs" fill="#000">a</text>
<rect x="217.6" y="25.4" width="119" height="50.2" fill="#fff" stroke="#505050" stroke-width="1.3"/>
<line x1="220.1" x2="237.1" y1="35.7" y2="35.7" stroke="#1d6b1d" stroke-width="1.6" stroke-dasharray="6 4.5"/>
<rect x="225.4" y="43.9" width="3.6" height="3.6" fill="none" stroke="#22f022" stroke-width="1.6"/>
<line x1="220.1" x2="236.6" y1="55.4" y2="55.4" stroke="#0c0cf0" stroke-width="1.7"/>
<circle cx="227.2" cy="65.8" r="1.75" fill="none" stroke="#0c0cf0" stroke-width="1.5"/>
<text x="242.2" y="39.1" font-size="9.55" textLength="90.81" lengthAdjust="spacingAndGlyphs" fill="#2a2a2a">Females loess / 95% CI</text>
<text x="242.2" y="49.1" font-size="9.55" textLength="32.97" lengthAdjust="spacingAndGlyphs" fill="#2a2a2a">Females</text>
<text x="242.2" y="58.8" font-size="9.55" textLength="80.77" lengthAdjust="spacingAndGlyphs" fill="#2a2a2a">Males loess / 95% CI</text>
<text x="242.2" y="69.2" font-size="9.55" textLength="22.94" lengthAdjust="spacingAndGlyphs" fill="#2a2a2a">Males</text>
<g fill="none" stroke="#2ef02e" stroke-width="1.15"><rect x="434.23" y="33.9" width="4.8" height="4.4"/><rect x="516.9" y="33.9" width="4.8" height="4.4"/><rect x="540.51" y="33.9" width="4.8" height="4.4"/><rect x="558.23" y="33.9" width="4.8" height="4.4"/><rect x="564.14" y="33.9" width="4.8" height="4.4"/><rect x="516.9" y="81.98" width="4.8" height="4.4"/><rect x="446.04" y="118.23" width="4.8" height="4.4"/><rect x="446.04" y="122.7" width="4.8" height="4.4"/><rect x="493.28" y="118.23" width="4.8" height="4.4"/><rect x="516.9" y="118.23" width="4.8" height="4.4"/><rect x="475.56" y="134.52" width="4.8" height="4.4"/><rect x="475.56" y="141.62" width="4.8" height="4.4"/><rect x="451.94" y="146.88" width="4.8" height="4.4"/><rect x="481.47" y="148.98" width="4.8" height="4.4"/><rect x="493.28" y="146.34" width="4.8" height="4.4"/><rect x="528.71" y="146.34" width="4.8" height="4.4"/><rect x="540.51" y="142.41" width="4.8" height="4.4"/><rect x="540.51" y="146.88" width="4.8" height="4.4"/><rect x="552.33" y="153.71" width="4.8" height="4.4"/><rect x="558.23" y="153.71" width="4.8" height="4.4"/><rect x="493.28" y="155.54" width="4.8" height="4.4"/><rect x="611.38" y="76.34" width="4.8" height="4.4"/><rect x="646.81" y="82.03" width="4.8" height="4.4"/><rect x="640.9" y="94.93" width="4.8" height="4.4"/><rect x="635" y="105.74" width="4.8" height="4.4"/><rect x="611.38" y="134.57" width="4.8" height="4.4"/><rect x="611.38" y="145.95" width="4.8" height="4.4"/><rect x="451.94" y="162.37" width="4.8" height="4.4"/><rect x="440.13" y="168.96" width="4.8" height="4.4"/><rect x="410.61" y="179.74" width="4.8" height="4.4"/><rect x="410.61" y="181.53" width="4.8" height="4.4"/><rect x="404.7" y="191.12" width="4.8" height="4.4"/><rect x="416.51" y="195.9" width="4.8" height="4.4"/><rect x="416.51" y="197.7" width="4.8" height="4.4"/><rect x="422.42" y="198.91" width="4.8" height="4.4"/><rect x="434.23" y="190.51" width="4.8" height="4.4"/><rect x="440.13" y="184.54" width="4.8" height="4.4"/><rect x="446.04" y="180.94" width="4.8" height="4.4"/><rect x="446.04" y="185.73" width="4.8" height="4.4"/><rect x="428.32" y="202.5" width="4.8" height="4.4"/><rect x="440.13" y="194.11" width="4.8" height="4.4"/><rect x="457.85" y="165.97" width="4.8" height="4.4"/><rect x="457.85" y="171.36" width="4.8" height="4.4"/><rect x="463.75" y="171.96" width="4.8" height="4.4"/><rect x="463.75" y="178.54" width="4.8" height="4.4"/><rect x="463.75" y="180.94" width="4.8" height="4.4"/><rect x="469.66" y="159.97" width="4.8" height="4.4"/><rect x="469.66" y="168.96" width="4.8" height="4.4"/><rect x="475.56" y="170.17" width="4.8" height="4.4"/><rect x="481.47" y="168.96" width="4.8" height="4.4"/><rect x="481.47" y="173.15" width="4.8" height="4.4"/><rect x="481.47" y="177.35" width="4.8" height="4.4"/><rect x="487.37" y="159.97" width="4.8" height="4.4"/><rect x="493.28" y="174.35" width="4.8" height="4.4"/><rect x="493.28" y="177.94" width="4.8" height="4.4"/><rect x="499.18" y="159.97" width="4.8" height="4.4"/><rect x="499.18" y="174.95" width="4.8" height="4.4"/><rect x="499.18" y="178.54" width="4.8" height="4.4"/><rect x="505.09" y="171.96" width="4.8" height="4.4"/><rect x="505.09" y="175.55" width="4.8" height="4.4"/><rect x="505.09" y="179.15" width="4.8" height="4.4"/><rect x="510.99" y="166.57" width="4.8" height="4.4"/><rect x="510.99" y="171.96" width="4.8" height="4.4"/><rect x="510.99" y="173.76" width="4.8" height="4.4"/><rect x="510.99" y="175.55" width="4.8" height="4.4"/><rect x="510.99" y="177.35" width="4.8" height="4.4"/><rect x="522.8" y="174.35" width="4.8" height="4.4"/><rect x="528.71" y="172.55" width="4.8" height="4.4"/><rect x="534.61" y="165.13" width="4.8" height="4.4"/><rect x="534.61" y="172.55" width="4.8" height="4.4"/><rect x="540.51" y="171.36" width="4.8" height="4.4"/><rect x="540.51" y="174.35" width="4.8" height="4.4"/><rect x="540.51" y="177.35" width="4.8" height="4.4"/><rect x="546.42" y="172.55" width="4.8" height="4.4"/><rect x="546.42" y="175.55" width="4.8" height="4.4"/><rect x="546.42" y="178.54" width="4.8" height="4.4"/><rect x="552.33" y="168.37" width="4.8" height="4.4"/><rect x="552.33" y="170.75" width="4.8" height="4.4"/><rect x="552.33" y="173.76" width="4.8" height="4.4"/><rect x="552.33" y="176.75" width="4.8" height="4.4"/><rect x="564.14" y="160.07" width="4.8" height="4.4"/><rect x="564.14" y="163.67" width="4.8" height="4.4"/><rect x="575.95" y="159.37" width="4.8" height="4.4"/><rect x="575.95" y="162.96" width="4.8" height="4.4"/><rect x="581.85" y="168.27" width="4.8" height="4.4"/><rect x="599.57" y="168.27" width="4.8" height="4.4"/><rect x="605.47" y="172.3" width="4.8" height="4.4"/><rect x="605.47" y="175.89" width="4.8" height="4.4"/><rect x="611.38" y="175.89" width="4.8" height="4.4"/><rect x="611.38" y="179.48" width="4.8" height="4.4"/><rect x="617.28" y="179.48" width="4.8" height="4.4"/><rect x="623.19" y="162.96" width="4.8" height="4.4"/><rect x="558.23" y="174.45" width="4.8" height="4.4"/><rect x="558.23" y="180.21" width="4.8" height="4.4"/><rect x="570.04" y="176.61" width="4.8" height="4.4"/><rect x="570.04" y="179.48" width="4.8" height="4.4"/><rect x="581.85" y="177.33" width="4.8" height="4.4"/><rect x="581.85" y="180.93" width="4.8" height="4.4"/><rect x="587.75" y="178.04" width="4.8" height="4.4"/><rect x="587.75" y="181.63" width="4.8" height="4.4"/><rect x="599.57" y="183.08" width="4.8" height="4.4"/><rect x="640.9" y="169.71" width="4.8" height="4.4"/><rect x="623.19" y="183.8" width="4.8" height="4.4"/><rect x="635" y="178.76" width="4.8" height="4.4"/><rect x="640.9" y="185.24" width="4.8" height="4.4"/><rect x="652.71" y="177.33" width="4.8" height="4.4"/><rect x="652.71" y="180.21" width="4.8" height="4.4"/><rect x="652.71" y="188.11" width="4.8" height="4.4"/><rect x="658.62" y="196.02" width="4.8" height="4.4"/><rect x="664.52" y="201.76" width="4.8" height="4.4"/><rect x="646.81" y="193.13" width="4.8" height="4.4"/><rect x="416.51" y="202.15" width="4.8" height="4.4"/><rect x="416.51" y="193.75" width="4.8" height="4.4"/><rect x="416.51" y="185.36" width="4.8" height="4.4"/><rect x="422.42" y="202.15" width="4.8" height="4.4"/><rect x="422.42" y="193.75" width="4.8" height="4.4"/><rect x="422.42" y="185.36" width="4.8" height="4.4"/><rect x="428.32" y="197.95" width="4.8" height="4.4"/><rect x="428.32" y="193.75" width="4.8" height="4.4"/><rect x="434.23" y="202.15" width="4.8" height="4.4"/><rect x="434.23" y="197.95" width="4.8" height="4.4"/><rect x="434.23" y="193.75" width="4.8" height="4.4"/><rect x="434.23" y="185.36" width="4.8" height="4.4"/><rect x="440.13" y="202.15" width="4.8" height="4.4"/><rect x="440.13" y="197.95" width="4.8" height="4.4"/><rect x="440.13" y="189.56" width="4.8" height="4.4"/><rect x="446.04" y="202.15" width="4.8" height="4.4"/><rect x="446.04" y="197.95" width="4.8" height="4.4"/><rect x="446.04" y="193.75" width="4.8" height="4.4"/><rect x="446.04" y="189.56" width="4.8" height="4.4"/><rect x="451.94" y="202.15" width="4.8" height="4.4"/><rect x="451.94" y="197.95" width="4.8" height="4.4"/><rect x="451.94" y="193.75" width="4.8" height="4.4"/><rect x="451.94" y="189.56" width="4.8" height="4.4"/><rect x="451.94" y="185.36" width="4.8" height="4.4"/><rect x="457.85" y="202.15" width="4.8" height="4.4"/><rect x="457.85" y="197.95" width="4.8" height="4.4"/><rect x="457.85" y="193.75" width="4.8" height="4.4"/><rect x="457.85" y="189.56" width="4.8" height="4.4"/><rect x="463.75" y="202.15" width="4.8" height="4.4"/><rect x="463.75" y="197.95" width="4.8" height="4.4"/><rect x="463.75" y="193.75" width="4.8" height="4.4"/><rect x="463.75" y="189.56" width="4.8" height="4.4"/><rect x="463.75" y="185.36" width="4.8" height="4.4"/><rect x="469.66" y="202.15" width="4.8" height="4.4"/><rect x="469.66" y="197.95" width="4.8" height="4.4"/><rect x="469.66" y="193.75" width="4.8" height="4.4"/><rect x="469.66" y="189.56" width="4.8" height="4.4"/><rect x="469.66" y="185.36" width="4.8" height="4.4"/><rect x="475.56" y="202.15" width="4.8" height="4.4"/><rect x="475.56" y="197.95" width="4.8" height="4.4"/><rect x="475.56" y="193.75" width="4.8" height="4.4"/><rect x="475.56" y="189.56" width="4.8" height="4.4"/><rect x="475.56" y="185.36" width="4.8" height="4.4"/><rect x="481.47" y="202.15" width="4.8" height="4.4"/><rect x="481.47" y="197.95" width="4.8" height="4.4"/><rect x="481.47" y="193.75" width="4.8" height="4.4"/><rect x="481.47" y="189.56" width="4.8" height="4.4"/><rect x="481.47" y="185.36" width="4.8" height="4.4"/><rect x="487.37" y="202.15" width="4.8" height="4.4"/><rect x="487.37" y="197.95" width="4.8" height="4.4"/><rect x="487.37" y="193.75" width="4.8" height="4.4"/><rect x="487.37" y="189.56" width="4.8" height="4.4"/><rect x="487.37" y="185.36" width="4.8" height="4.4"/><rect x="493.28" y="202.15" width="4.8" height="4.4"/><rect x="493.28" y="197.95" width="4.8" height="4.4"/><rect x="493.28" y="193.75" width="4.8" height="4.4"/><rect x="493.28" y="189.56" width="4.8" height="4.4"/><rect x="499.18" y="202.15" width="4.8" height="4.4"/><rect x="499.18" y="197.95" width="4.8" height="4.4"/><rect x="499.18" y="193.75" width="4.8" height="4.4"/><rect x="499.18" y="189.56" width="4.8" height="4.4"/><rect x="499.18" y="185.36" width="4.8" height="4.4"/><rect x="505.09" y="202.15" width="4.8" height="4.4"/><rect x="505.09" y="197.95" width="4.8" height="4.4"/><rect x="505.09" y="193.75" width="4.8" height="4.4"/><rect x="505.09" y="189.56" width="4.8" height="4.4"/><rect x="505.09" y="185.36" width="4.8" height="4.4"/><rect x="510.99" y="202.15" width="4.8" height="4.4"/><rect x="510.99" y="197.95" width="4.8" height="4.4"/><rect x="510.99" y="193.75" width="4.8" height="4.4"/><rect x="510.99" y="189.56" width="4.8" height="4.4"/><rect x="516.9" y="202.15" width="4.8" height="4.4"/><rect x="516.9" y="197.95" width="4.8" height="4.4"/><rect x="516.9" y="193.75" width="4.8" height="4.4"/><rect x="516.9" y="189.56" width="4.8" height="4.4"/><rect x="522.8" y="202.15" width="4.8" height="4.4"/><rect x="522.8" y="197.95" width="4.8" height="4.4"/><rect x="522.8" y="193.75" width="4.8" height="4.4"/><rect x="522.8" y="189.56" width="4.8" height="4.4"/><rect x="528.71" y="202.15" width="4.8" height="4.4"/><rect x="528.71" y="197.95" width="4.8" height="4.4"/><rect x="528.71" y="193.75" width="4.8" height="4.4"/><rect x="528.71" y="189.56" width="4.8" height="4.4"/><rect x="528.71" y="185.36" width="4.8" height="4.4"/><rect x="534.61" y="202.15" width="4.8" height="4.4"/><rect x="534.61" y="197.95" width="4.8" height="4.4"/><rect x="534.61" y="193.75" width="4.8" height="4.4"/><rect x="534.61" y="189.56" width="4.8" height="4.4"/><rect x="540.51" y="202.15" width="4.8" height="4.4"/><rect x="540.51" y="197.95" width="4.8" height="4.4"/><rect x="540.51" y="193.75" width="4.8" height="4.4"/><rect x="540.51" y="189.56" width="4.8" height="4.4"/><rect x="540.51" y="185.36" width="4.8" height="4.4"/><rect x="546.42" y="202.15" width="4.8" height="4.4"/><rect x="546.42" y="197.95" width="4.8" height="4.4"/><rect x="546.42" y="193.75" width="4.8" height="4.4"/><rect x="546.42" y="189.56" width="4.8" height="4.4"/><rect x="552.33" y="202.15" width="4.8" height="4.4"/><rect x="552.33" y="197.95" width="4.8" height="4.4"/><rect x="552.33" y="193.75" width="4.8" height="4.4"/><rect x="552.33" y="189.56" width="4.8" height="4.4"/><rect x="552.33" y="185.36" width="4.8" height="4.4"/><rect x="558.23" y="202.15" width="4.8" height="4.4"/><rect x="558.23" y="197.95" width="4.8" height="4.4"/><rect x="558.23" y="193.75" width="4.8" height="4.4"/><rect x="558.23" y="189.56" width="4.8" height="4.4"/><rect x="558.23" y="185.36" width="4.8" height="4.4"/><rect x="564.14" y="202.15" width="4.8" height="4.4"/><rect x="564.14" y="197.95" width="4.8" height="4.4"/><rect x="564.14" y="193.75" width="4.8" height="4.4"/><rect x="564.14" y="189.56" width="4.8" height="4.4"/><rect x="564.14" y="185.36" width="4.8" height="4.4"/><rect x="570.04" y="202.15" width="4.8" height="4.4"/><rect x="570.04" y="197.95" width="4.8" height="4.4"/><rect x="570.04" y="193.75" width="4.8" height="4.4"/><rect x="570.04" y="189.56" width="4.8" height="4.4"/><rect x="570.04" y="185.36" width="4.8" height="4.4"/><rect x="575.95" y="202.15" width="4.8" height="4.4"/><rect x="575.95" y="197.95" width="4.8" height="4.4"/><rect x="575.95" y="193.75" width="4.8" height="4.4"/><rect x="575.95" y="189.56" width="4.8" height="4.4"/><rect x="581.85" y="202.15" width="4.8" height="4.4"/><rect x="581.85" y="197.95" width="4.8" height="4.4"/><rect x="581.85" y="193.75" width="4.8" height="4.4"/><rect x="581.85" y="189.56" width="4.8" height="4.4"/><rect x="581.85" y="185.36" width="4.8" height="4.4"/><rect x="587.75" y="202.15" width="4.8" height="4.4"/><rect x="587.75" y="197.95" width="4.8" height="4.4"/><rect x="587.75" y="193.75" width="4.8" height="4.4"/><rect x="587.75" y="189.56" width="4.8" height="4.4"/><rect x="593.66" y="202.15" width="4.8" height="4.4"/><rect x="593.66" y="197.95" width="4.8" height="4.4"/><rect x="593.66" y="193.75" width="4.8" height="4.4"/><rect x="593.66" y="189.56" width="4.8" height="4.4"/><rect x="599.57" y="202.15" width="4.8" height="4.4"/><rect x="599.57" y="197.95" width="4.8" height="4.4"/><rect x="599.57" y="193.75" width="4.8" height="4.4"/><rect x="599.57" y="189.56" width="4.8" height="4.4"/><rect x="599.57" y="185.36" width="4.8" height="4.4"/><rect x="605.47" y="202.15" width="4.8" height="4.4"/><rect x="605.47" y="197.95" width="4.8" height="4.4"/><rect x="605.47" y="193.75" width="4.8" height="4.4"/><rect x="605.47" y="189.56" width="4.8" height="4.4"/><rect x="611.38" y="202.15" width="4.8" height="4.4"/><rect x="611.38" y="197.95" width="4.8" height="4.4"/><rect x="611.38" y="193.75" width="4.8" height="4.4"/><rect x="611.38" y="189.56" width="4.8" height="4.4"/><rect x="611.38" y="185.36" width="4.8" height="4.4"/><rect x="617.28" y="202.15" width="4.8" height="4.4"/><rect x="617.28" y="197.95" width="4.8" height="4.4"/><rect x="617.28" y="193.75" width="4.8" height="4.4"/><rect x="617.28" y="189.56" width="4.8" height="4.4"/><rect x="617.28" y="185.36" width="4.8" height="4.4"/><rect x="623.19" y="202.15" width="4.8" height="4.4"/><rect x="623.19" y="197.95" width="4.8" height="4.4"/><rect x="623.19" y="193.75" width="4.8" height="4.4"/><rect x="623.19" y="189.56" width="4.8" height="4.4"/><rect x="629.09" y="202.15" width="4.8" height="4.4"/><rect x="629.09" y="197.95" width="4.8" height="4.4"/><rect x="629.09" y="193.75" width="4.8" height="4.4"/><rect x="629.09" y="189.56" width="4.8" height="4.4"/><rect x="635" y="202.15" width="4.8" height="4.4"/><rect x="635" y="197.95" width="4.8" height="4.4"/><rect x="635" y="193.75" width="4.8" height="4.4"/><rect x="635" y="189.56" width="4.8" height="4.4"/><rect x="635" y="185.36" width="4.8" height="4.4"/><rect x="640.9" y="202.15" width="4.8" height="4.4"/><rect x="640.9" y="197.95" width="4.8" height="4.4"/><rect x="640.9" y="193.75" width="4.8" height="4.4"/><rect x="640.9" y="189.56" width="4.8" height="4.4"/><rect x="646.81" y="202.15" width="4.8" height="4.4"/><rect x="646.81" y="197.95" width="4.8" height="4.4"/><rect x="652.71" y="202.15" width="4.8" height="4.4"/><rect x="652.71" y="197.95" width="4.8" height="4.4"/><rect x="652.71" y="193.75" width="4.8" height="4.4"/><rect x="652.71" y="185.36" width="4.8" height="4.4"/></g>
<g fill="none" stroke="#4848ec" stroke-width="1.2"><ellipse cx="483.87" cy="36.3" rx="1.85" ry="2.05"/><ellipse cx="442.53" cy="137.19" rx="1.85" ry="2.05"/><ellipse cx="560.63" cy="146.12" rx="1.85" ry="2.05"/><ellipse cx="501.58" cy="156.63" rx="1.85" ry="2.05"/><ellipse cx="442.53" cy="174.36" rx="1.85" ry="2.05"/><ellipse cx="442.53" cy="176.16" rx="1.85" ry="2.05"/><ellipse cx="430.72" cy="178.54" rx="1.85" ry="2.05"/><ellipse cx="424.81" cy="194.12" rx="1.85" ry="2.05"/><ellipse cx="430.72" cy="204.3" rx="1.85" ry="2.05"/><ellipse cx="442.53" cy="203.69" rx="1.85" ry="2.05"/><ellipse cx="448.44" cy="203.69" rx="1.85" ry="2.05"/><ellipse cx="454.34" cy="203.69" rx="1.85" ry="2.05"/><ellipse cx="448.44" cy="194.71" rx="1.85" ry="2.05"/><ellipse cx="454.34" cy="195.32" rx="1.85" ry="2.05"/><ellipse cx="460.25" cy="176.75" rx="1.85" ry="2.05"/><ellipse cx="460.25" cy="179.99" rx="1.85" ry="2.05"/><ellipse cx="489.77" cy="179.99" rx="1.85" ry="2.05"/><ellipse cx="525.2" cy="183.34" rx="1.85" ry="2.05"/><ellipse cx="531.11" cy="180.34" rx="1.85" ry="2.05"/><ellipse cx="537.01" cy="187.52" rx="1.85" ry="2.05"/><ellipse cx="554.73" cy="173.76" rx="1.85" ry="2.05"/><ellipse cx="566.54" cy="174.41" rx="1.85" ry="2.05"/><ellipse cx="590.15" cy="178.29" rx="1.85" ry="2.05"/><ellipse cx="596.06" cy="170.67" rx="1.85" ry="2.05"/><ellipse cx="625.59" cy="170.67" rx="1.85" ry="2.05"/><ellipse cx="661.02" cy="204.16" rx="1.85" ry="2.05"/><ellipse cx="666.92" cy="202.01" rx="1.85" ry="2.05"/><ellipse cx="655.11" cy="203.44" rx="1.85" ry="2.05"/><ellipse cx="436.62" cy="204.55" rx="1.85" ry="2.05"/><ellipse cx="448.44" cy="197.83" rx="1.85" ry="2.05"/><ellipse cx="454.34" cy="197.83" rx="1.85" ry="2.05"/><ellipse cx="460.25" cy="204.55" rx="1.85" ry="2.05"/><ellipse cx="466.15" cy="204.55" rx="1.85" ry="2.05"/><ellipse cx="472.06" cy="204.55" rx="1.85" ry="2.05"/><ellipse cx="477.96" cy="204.55" rx="1.85" ry="2.05"/><ellipse cx="483.87" cy="204.55" rx="1.85" ry="2.05"/><ellipse cx="483.87" cy="191.12" rx="1.85" ry="2.05"/><ellipse cx="489.77" cy="204.55" rx="1.85" ry="2.05"/><ellipse cx="495.68" cy="204.55" rx="1.85" ry="2.05"/><ellipse cx="495.68" cy="197.83" rx="1.85" ry="2.05"/><ellipse cx="501.58" cy="204.55" rx="1.85" ry="2.05"/><ellipse cx="501.58" cy="197.83" rx="1.85" ry="2.05"/><ellipse cx="507.49" cy="204.55" rx="1.85" ry="2.05"/><ellipse cx="507.49" cy="197.83" rx="1.85" ry="2.05"/><ellipse cx="507.49" cy="191.12" rx="1.85" ry="2.05"/><ellipse cx="513.39" cy="204.55" rx="1.85" ry="2.05"/><ellipse cx="513.39" cy="197.83" rx="1.85" ry="2.05"/><ellipse cx="513.39" cy="191.12" rx="1.85" ry="2.05"/><ellipse cx="519.3" cy="204.55" rx="1.85" ry="2.05"/><ellipse cx="519.3" cy="191.12" rx="1.85" ry="2.05"/><ellipse cx="525.2" cy="204.55" rx="1.85" ry="2.05"/><ellipse cx="531.11" cy="204.55" rx="1.85" ry="2.05"/><ellipse cx="537.01" cy="204.55" rx="1.85" ry="2.05"/><ellipse cx="537.01" cy="197.83" rx="1.85" ry="2.05"/><ellipse cx="542.91" cy="197.83" rx="1.85" ry="2.05"/><ellipse cx="542.91" cy="191.12" rx="1.85" ry="2.05"/><ellipse cx="548.82" cy="204.55" rx="1.85" ry="2.05"/><ellipse cx="548.82" cy="197.83" rx="1.85" ry="2.05"/><ellipse cx="554.73" cy="204.55" rx="1.85" ry="2.05"/><ellipse cx="554.73" cy="197.83" rx="1.85" ry="2.05"/><ellipse cx="554.73" cy="191.12" rx="1.85" ry="2.05"/><ellipse cx="560.63" cy="204.55" rx="1.85" ry="2.05"/><ellipse cx="560.63" cy="197.83" rx="1.85" ry="2.05"/><ellipse cx="572.44" cy="204.55" rx="1.85" ry="2.05"/><ellipse cx="572.44" cy="191.12" rx="1.85" ry="2.05"/><ellipse cx="584.25" cy="204.55" rx="1.85" ry="2.05"/><ellipse cx="584.25" cy="197.83" rx="1.85" ry="2.05"/><ellipse cx="590.15" cy="204.55" rx="1.85" ry="2.05"/><ellipse cx="590.15" cy="191.12" rx="1.85" ry="2.05"/><ellipse cx="596.06" cy="204.55" rx="1.85" ry="2.05"/><ellipse cx="596.06" cy="197.83" rx="1.85" ry="2.05"/><ellipse cx="596.06" cy="191.12" rx="1.85" ry="2.05"/><ellipse cx="601.97" cy="204.55" rx="1.85" ry="2.05"/><ellipse cx="601.97" cy="197.83" rx="1.85" ry="2.05"/><ellipse cx="601.97" cy="191.12" rx="1.85" ry="2.05"/><ellipse cx="607.87" cy="204.55" rx="1.85" ry="2.05"/><ellipse cx="607.87" cy="197.83" rx="1.85" ry="2.05"/><ellipse cx="613.78" cy="204.55" rx="1.85" ry="2.05"/><ellipse cx="619.68" cy="204.55" rx="1.85" ry="2.05"/><ellipse cx="619.68" cy="197.83" rx="1.85" ry="2.05"/><ellipse cx="625.59" cy="204.55" rx="1.85" ry="2.05"/><ellipse cx="625.59" cy="197.83" rx="1.85" ry="2.05"/><ellipse cx="637.39" cy="204.55" rx="1.85" ry="2.05"/><ellipse cx="637.39" cy="197.83" rx="1.85" ry="2.05"/><ellipse cx="643.3" cy="204.55" rx="1.85" ry="2.05"/><ellipse cx="643.3" cy="191.12" rx="1.85" ry="2.05"/><ellipse cx="649.21" cy="204.55" rx="1.85" ry="2.05"/><ellipse cx="655.11" cy="191.12" rx="1.85" ry="2.05"/></g>
<polyline points="407,180 419.4,181.4 429.6,182.4 451.5,184.3 469,184.6 496,184.3 530,184.6 560,185 585,186.5 610,187 630,186 640.5,184.1 648,183" fill="none" stroke="#1a631a" stroke-width="1.7" stroke-dasharray="5.5 4.5"/>
<polyline points="407,191.2 425.2,189.7 439.8,189 454.4,188.2 480,188.5 520,189.5 560,190.5 590,191 620,190.5 640,189 648,188.5" fill="none" stroke="#1a631a" stroke-width="1.7" stroke-dasharray="5.5 4.5"/>
<polyline points="407,202.1 419.4,199.9 429.6,197 439.8,194.8 454.4,193.4 480,193 520,194 560,195.5 600,195.5 630,194 648,193.5" fill="none" stroke="#1a631a" stroke-width="1.7" stroke-dasharray="5.5 4.5"/>
<polyline points="425.2,178.8 434,181 444.2,183.9 454.4,186 469,187.5 483.6,188.2 496,189 520,190 540,191 560,191.8 589.2,192.5 603.8,191.8 618.4,190.3 625.7,188.1 635.9,184.5 637.4,181.6 647.6,180.8 653.4,177.2 656.4,175 656.4,172.8" fill="none" stroke="#0c0cf0" stroke-width="2.0"/>
<polyline points="423.7,191.2 439.8,191.2 454.4,191.6 469,192.6 483.6,193.4 496,194.1 520,194.8 540,195.2 560,195.4 589.2,196.9 603.8,196.2 618.4,194.7 633,193.2 641.8,191.8 650.5,188.9 655.6,185.2" fill="none" stroke="#0c0cf0" stroke-width="2.0"/>
<polyline points="425.2,201.4 439.8,198.5 454.4,196.3 469,195.5 483.6,196.3 496,197 520,198.2 560,199.1 589.2,199.1 618.4,198.4 655.6,198.4" fill="none" stroke="#0c0cf0" stroke-width="2.0"/>
<rect x="396.3" y="29.2" width="286.8" height="182.2" fill="none" stroke="#505050" stroke-width="1.3"/>
<line x1="390.3" x2="396.3" y1="204.35" y2="204.35" stroke="#505050" stroke-width="1.3"/>
<text x="381.6" y="204.35" transform="rotate(-90 381.6 204.35)" text-anchor="middle" font-size="10.2" textLength="14.18" lengthAdjust="spacingAndGlyphs" fill="#222222">0.0</text>
<line x1="390.3" x2="396.3" y1="170.77" y2="170.77" stroke="#505050" stroke-width="1.3"/>
<text x="381.6" y="170.77" transform="rotate(-90 381.6 170.77)" text-anchor="middle" font-size="10.2" textLength="14.18" lengthAdjust="spacingAndGlyphs" fill="#222222">0.2</text>
<line x1="390.3" x2="396.3" y1="137.19" y2="137.19" stroke="#505050" stroke-width="1.3"/>
<text x="381.6" y="137.19" transform="rotate(-90 381.6 137.19)" text-anchor="middle" font-size="10.2" textLength="14.18" lengthAdjust="spacingAndGlyphs" fill="#222222">0.4</text>
<line x1="390.3" x2="396.3" y1="103.61" y2="103.61" stroke="#505050" stroke-width="1.3"/>
<text x="381.6" y="103.61" transform="rotate(-90 381.6 103.61)" text-anchor="middle" font-size="10.2" textLength="14.18" lengthAdjust="spacingAndGlyphs" fill="#222222">0.6</text>
<line x1="390.3" x2="396.3" y1="70.03" y2="70.03" stroke="#505050" stroke-width="1.3"/>
<text x="381.6" y="70.03" transform="rotate(-90 381.6 70.03)" text-anchor="middle" font-size="10.2" textLength="14.18" lengthAdjust="spacingAndGlyphs" fill="#222222">0.8</text>
<line x1="390.3" x2="396.3" y1="36.45" y2="36.45" stroke="#505050" stroke-width="1.3"/>
<text x="381.6" y="36.45" transform="rotate(-90 381.6 36.45)" text-anchor="middle" font-size="10.2" textLength="14.18" lengthAdjust="spacingAndGlyphs" fill="#222222">1.0</text>
<line x1="407.1" x2="407.1" y1="211.4" y2="217.4" stroke="#505050" stroke-width="1.3"/>
<text x="407.1" y="233.6" text-anchor="middle" font-size="11.32" textLength="11.34" lengthAdjust="spacingAndGlyphs" fill="#222222">20</text>
<line x1="466.15" x2="466.15" y1="211.4" y2="217.4" stroke="#505050" stroke-width="1.3"/>
<text x="466.15" y="233.6" text-anchor="middle" font-size="11.32" textLength="11.34" lengthAdjust="spacingAndGlyphs" fill="#222222">30</text>
<line x1="525.2" x2="525.2" y1="211.4" y2="217.4" stroke="#505050" stroke-width="1.3"/>
<text x="525.2" y="233.6" text-anchor="middle" font-size="11.32" textLength="11.34" lengthAdjust="spacingAndGlyphs" fill="#222222">40</text>
<line x1="584.25" x2="584.25" y1="211.4" y2="217.4" stroke="#505050" stroke-width="1.3"/>
<text x="584.25" y="233.6" text-anchor="middle" font-size="11.32" textLength="11.34" lengthAdjust="spacingAndGlyphs" fill="#222222">50</text>
<line x1="643.3" x2="643.3" y1="211.4" y2="217.4" stroke="#505050" stroke-width="1.3"/>
<text x="643.3" y="233.6" text-anchor="middle" font-size="11.32" textLength="11.34" lengthAdjust="spacingAndGlyphs" fill="#222222">60</text>
<text x="539.7" y="248.8" text-anchor="middle" font-size="11.32" textLength="56.69" lengthAdjust="spacingAndGlyphs" fill="#222222">Age in years</text>
<text x="363.6" y="120.3" transform="rotate(-90 363.6 120.3)" text-anchor="middle" font-size="10.1" textLength="194.23" lengthAdjust="spacingAndGlyphs" fill="#222222">Incidence of GTI exposure in person weeks</text>
<text x="354.8" y="15.9" font-size="19.6" font-weight="bold" textLength="11.02" lengthAdjust="spacingAndGlyphs" fill="#000">b</text>
<rect x="566.5" y="29.2" width="116.6" height="49" fill="#fff" stroke="#505050" stroke-width="1.3"/>
<line x1="569" x2="586" y1="39.5" y2="39.5" stroke="#1d6b1d" stroke-width="1.6" stroke-dasharray="6 4.5"/>
<rect x="574.3" y="47.7" width="3.6" height="3.6" fill="none" stroke="#22f022" stroke-width="1.6"/>
<line x1="569" x2="585.5" y1="59.2" y2="59.2" stroke="#0c0cf0" stroke-width="1.7"/>
<circle cx="576.1" cy="69.6" r="1.75" fill="none" stroke="#0c0cf0" stroke-width="1.5"/>
<text x="590.4" y="42.9" font-size="9.32" textLength="88.7" lengthAdjust="spacingAndGlyphs" fill="#2a2a2a">Females loess / 95% CI</text>
<text x="590.4" y="52.9" font-size="9.32" textLength="32.21" lengthAdjust="spacingAndGlyphs" fill="#2a2a2a">Females</text>
<text x="590.4" y="62.6" font-size="9.32" textLength="78.89" lengthAdjust="spacingAndGlyphs" fill="#2a2a2a">Males loess / 95% CI</text>
<text x="590.4" y="73" font-size="9.32" textLength="22.41" lengthAdjust="spacingAndGlyphs" fill="#2a2a2a">Males</text>
<g fill="none" stroke="#2ef02e" stroke-width="1.15"><rect x="63.44" y="425.64" width="4.8" height="4.4"/><rect x="63.44" y="439.45" width="4.8" height="4.4"/><rect x="69.41" y="402.65" width="4.8" height="4.4"/><rect x="69.41" y="405.94" width="4.8" height="4.4"/><rect x="69.41" y="419.08" width="4.8" height="4.4"/><rect x="75.38" y="398.71" width="4.8" height="4.4"/><rect x="75.38" y="442.74" width="4.8" height="4.4"/><rect x="75.38" y="450.63" width="4.8" height="4.4"/><rect x="81.35" y="423.68" width="4.8" height="4.4"/><rect x="81.35" y="431.56" width="4.8" height="4.4"/><rect x="87.32" y="394.78" width="4.8" height="4.4"/><rect x="87.32" y="399.37" width="4.8" height="4.4"/><rect x="87.32" y="409.89" width="4.8" height="4.4"/><rect x="87.32" y="419.08" width="4.8" height="4.4"/><rect x="87.32" y="422.37" width="4.8" height="4.4"/><rect x="87.32" y="426.97" width="4.8" height="4.4"/><rect x="87.32" y="429.6" width="4.8" height="4.4"/><rect x="87.32" y="438.79" width="4.8" height="4.4"/><rect x="87.32" y="442.08" width="4.8" height="4.4"/><rect x="93.29" y="399.37" width="4.8" height="4.4"/><rect x="93.29" y="451.27" width="4.8" height="4.4"/><rect x="99.26" y="394.78" width="4.8" height="4.4"/><rect x="99.26" y="406.6" width="4.8" height="4.4"/><rect x="99.26" y="409.89" width="4.8" height="4.4"/><rect x="99.26" y="419.08" width="4.8" height="4.4"/><rect x="99.26" y="423.02" width="4.8" height="4.4"/><rect x="99.26" y="435.5" width="4.8" height="4.4"/><rect x="99.26" y="440.11" width="4.8" height="4.4"/><rect x="99.26" y="450.63" width="4.8" height="4.4"/><rect x="105.23" y="398.05" width="4.8" height="4.4"/><rect x="105.23" y="421.05" width="4.8" height="4.4"/><rect x="105.23" y="424.34" width="4.8" height="4.4"/><rect x="105.23" y="442.08" width="4.8" height="4.4"/><rect x="111.2" y="394.78" width="4.8" height="4.4"/><rect x="111.2" y="405.94" width="4.8" height="4.4"/><rect x="111.2" y="409.89" width="4.8" height="4.4"/><rect x="111.2" y="438.13" width="4.8" height="4.4"/><rect x="111.2" y="450.63" width="4.8" height="4.4"/><rect x="117.17" y="408.57" width="4.8" height="4.4"/><rect x="117.17" y="436.16" width="4.8" height="4.4"/><rect x="117.17" y="450.63" width="4.8" height="4.4"/><rect x="123.14" y="408.57" width="4.8" height="4.4"/><rect x="123.14" y="442.74" width="4.8" height="4.4"/><rect x="123.14" y="450.63" width="4.8" height="4.4"/><rect x="129.11" y="397.41" width="4.8" height="4.4"/><rect x="129.11" y="434.85" width="4.8" height="4.4"/><rect x="129.11" y="437.48" width="4.8" height="4.4"/><rect x="129.11" y="450.63" width="4.8" height="4.4"/><rect x="135.08" y="403.31" width="4.8" height="4.4"/><rect x="135.08" y="424.34" width="4.8" height="4.4"/><rect x="135.08" y="432.23" width="4.8" height="4.4"/><rect x="135.08" y="448" width="4.8" height="4.4"/><rect x="135.08" y="451.27" width="4.8" height="4.4"/><rect x="141.05" y="394.78" width="4.8" height="4.4"/><rect x="141.05" y="411.86" width="4.8" height="4.4"/><rect x="141.05" y="426.97" width="4.8" height="4.4"/><rect x="141.05" y="450.63" width="4.8" height="4.4"/><rect x="81.35" y="281.04" width="4.8" height="4.4"/><rect x="111.2" y="281.04" width="4.8" height="4.4"/><rect x="141.05" y="281.04" width="4.8" height="4.4"/><rect x="164.93" y="281.04" width="4.8" height="4.4"/><rect x="188.81" y="281.04" width="4.8" height="4.4"/><rect x="141.05" y="306.31" width="4.8" height="4.4"/><rect x="182.84" y="319.49" width="4.8" height="4.4"/><rect x="188.81" y="328.7" width="4.8" height="4.4"/><rect x="111.2" y="337.06" width="4.8" height="4.4"/><rect x="135.08" y="337.49" width="4.8" height="4.4"/><rect x="135.08" y="342.32" width="4.8" height="4.4"/><rect x="129.11" y="360.55" width="4.8" height="4.4"/><rect x="117.17" y="366.05" width="4.8" height="4.4"/><rect x="147.02" y="366.05" width="4.8" height="4.4"/><rect x="152.99" y="368.9" width="4.8" height="4.4"/><rect x="57.47" y="376.6" width="4.8" height="4.4"/><rect x="117.17" y="374.83" width="4.8" height="4.4"/><rect x="105.23" y="377.02" width="4.8" height="4.4"/><rect x="212.69" y="366.05" width="4.8" height="4.4"/><rect x="230.6" y="378.56" width="4.8" height="4.4"/><rect x="87.32" y="382.6" width="4.8" height="4.4"/><rect x="81.35" y="388.18" width="4.8" height="4.4"/><rect x="99.26" y="384.19" width="4.8" height="4.4"/><rect x="57.47" y="402.09" width="4.8" height="4.4"/><rect x="93.29" y="420.15" width="4.8" height="4.4"/><rect x="51.5" y="446.2" width="4.8" height="4.4"/><rect x="87.32" y="433.73" width="4.8" height="4.4"/><rect x="99.26" y="420.95" width="4.8" height="4.4"/><rect x="111.2" y="385.79" width="4.8" height="4.4"/><rect x="123.14" y="389.79" width="4.8" height="4.4"/><rect x="141.05" y="384.99" width="4.8" height="4.4"/><rect x="152.99" y="395.39" width="4.8" height="4.4"/><rect x="158.96" y="388.18" width="4.8" height="4.4"/><rect x="164.93" y="388.18" width="4.8" height="4.4"/><rect x="164.93" y="396.98" width="4.8" height="4.4"/><rect x="164.93" y="405.77" width="4.8" height="4.4"/><rect x="147.02" y="414.55" width="4.8" height="4.4"/><rect x="152.99" y="408.16" width="4.8" height="4.4"/><rect x="152.99" y="416.96" width="4.8" height="4.4"/><rect x="164.93" y="417.76" width="4.8" height="4.4"/><rect x="129.11" y="432.94" width="4.8" height="4.4"/><rect x="141.05" y="430.55" width="4.8" height="4.4"/><rect x="147.02" y="438.53" width="4.8" height="4.4"/><rect x="147.02" y="443.33" width="4.8" height="4.4"/><rect x="152.99" y="438.53" width="4.8" height="4.4"/><rect x="152.99" y="448.12" width="4.8" height="4.4"/><rect x="158.96" y="450.53" width="4.8" height="4.4"/><rect x="164.93" y="443.33" width="4.8" height="4.4"/><rect x="164.93" y="450.53" width="4.8" height="4.4"/><rect x="170.9" y="438.53" width="4.8" height="4.4"/><rect x="170.9" y="444.93" width="4.8" height="4.4"/><rect x="188.81" y="382.6" width="4.8" height="4.4"/><rect x="188.81" y="385.79" width="4.8" height="4.4"/><rect x="182.84" y="389.79" width="4.8" height="4.4"/><rect x="188.81" y="394.57" width="4.8" height="4.4"/><rect x="206.72" y="383.87" width="4.8" height="4.4"/><rect x="176.87" y="404.17" width="4.8" height="4.4"/><rect x="188.81" y="402.58" width="4.8" height="4.4"/><rect x="200.75" y="399.37" width="4.8" height="4.4"/><rect x="200.75" y="403.38" width="4.8" height="4.4"/><rect x="200.75" y="408.16" width="4.8" height="4.4"/><rect x="218.66" y="406.56" width="4.8" height="4.4"/><rect x="218.66" y="411.36" width="4.8" height="4.4"/><rect x="230.6" y="399.37" width="4.8" height="4.4"/><rect x="242.54" y="408.97" width="4.8" height="4.4"/><rect x="176.87" y="418.56" width="4.8" height="4.4"/><rect x="176.87" y="425.75" width="4.8" height="4.4"/><rect x="182.84" y="420.95" width="4.8" height="4.4"/><rect x="182.84" y="430.55" width="4.8" height="4.4"/><rect x="188.81" y="414.55" width="4.8" height="4.4"/><rect x="188.81" y="419.35" width="4.8" height="4.4"/><rect x="194.78" y="420.15" width="4.8" height="4.4"/><rect x="194.78" y="424.15" width="4.8" height="4.4"/><rect x="200.75" y="420.15" width="4.8" height="4.4"/><rect x="200.75" y="425.75" width="4.8" height="4.4"/><rect x="206.72" y="416.96" width="4.8" height="4.4"/><rect x="206.72" y="420.95" width="4.8" height="4.4"/><rect x="206.72" y="425.75" width="4.8" height="4.4"/><rect x="212.69" y="420.15" width="4.8" height="4.4"/><rect x="212.69" y="425.75" width="4.8" height="4.4"/><rect x="218.66" y="420.15" width="4.8" height="4.4"/><rect x="218.66" y="425.75" width="4.8" height="4.4"/><rect x="224.63" y="424.15" width="4.8" height="4.4"/><rect x="236.57" y="426.54" width="4.8" height="4.4"/><rect x="248.51" y="384.87" width="4.8" height="4.4"/><rect x="254.48" y="394.76" width="4.8" height="4.4"/><rect x="260.45" y="396.56" width="4.8" height="4.4"/><rect x="260.45" y="400.15" width="4.8" height="4.4"/><rect x="266.42" y="391.17" width="4.8" height="4.4"/><rect x="290.3" y="389.72" width="4.8" height="4.4"/><rect x="284.33" y="403.75" width="4.8" height="4.4"/><rect x="302.24" y="405.9" width="4.8" height="4.4"/><rect x="308.21" y="445.44" width="4.8" height="4.4"/><rect x="314.18" y="450.83" width="4.8" height="4.4"/><rect x="248.51" y="416.33" width="4.8" height="4.4"/><rect x="254.48" y="413.64" width="4.8" height="4.4"/><rect x="254.48" y="417.23" width="4.8" height="4.4"/><rect x="260.45" y="417.23" width="4.8" height="4.4"/><rect x="266.42" y="419.91" width="4.8" height="4.4"/><rect x="272.39" y="416.33" width="4.8" height="4.4"/><rect x="272.39" y="420.81" width="4.8" height="4.4"/><rect x="278.36" y="419.91" width="4.8" height="4.4"/><rect x="278.36" y="423.51" width="4.8" height="4.4"/><rect x="284.33" y="427.1" width="4.8" height="4.4"/><rect x="290.3" y="419.91" width="4.8" height="4.4"/><rect x="290.3" y="425.31" width="4.8" height="4.4"/><rect x="302.24" y="420.81" width="4.8" height="4.4"/><rect x="302.24" y="427.1" width="4.8" height="4.4"/><rect x="170.9" y="449.54" width="4.8" height="4.4"/><rect x="170.9" y="441.38" width="4.8" height="4.4"/><rect x="170.9" y="435.09" width="4.8" height="4.4"/><rect x="170.9" y="431.45" width="4.8" height="4.4"/><rect x="170.9" y="426.37" width="4.8" height="4.4"/><rect x="170.9" y="419.64" width="4.8" height="4.4"/><rect x="176.87" y="449.44" width="4.8" height="4.4"/><rect x="176.87" y="445.3" width="4.8" height="4.4"/><rect x="176.87" y="441.84" width="4.8" height="4.4"/><rect x="176.87" y="436.63" width="4.8" height="4.4"/><rect x="176.87" y="431.06" width="4.8" height="4.4"/><rect x="176.87" y="420.34" width="4.8" height="4.4"/><rect x="182.84" y="450.32" width="4.8" height="4.4"/><rect x="182.84" y="445.17" width="4.8" height="4.4"/><rect x="182.84" y="441.13" width="4.8" height="4.4"/><rect x="182.84" y="434.09" width="4.8" height="4.4"/><rect x="182.84" y="426" width="4.8" height="4.4"/><rect x="188.81" y="449.98" width="4.8" height="4.4"/><rect x="188.81" y="444.67" width="4.8" height="4.4"/><rect x="188.81" y="439.28" width="4.8" height="4.4"/><rect x="188.81" y="436.79" width="4.8" height="4.4"/><rect x="188.81" y="429.24" width="4.8" height="4.4"/><rect x="188.81" y="423.95" width="4.8" height="4.4"/><rect x="188.81" y="421.34" width="4.8" height="4.4"/><rect x="194.78" y="451.15" width="4.8" height="4.4"/><rect x="194.78" y="444.91" width="4.8" height="4.4"/><rect x="194.78" y="436.52" width="4.8" height="4.4"/><rect x="194.78" y="426.14" width="4.8" height="4.4"/><rect x="194.78" y="414.45" width="4.8" height="4.4"/><rect x="200.75" y="451.75" width="4.8" height="4.4"/><rect x="200.75" y="446.39" width="4.8" height="4.4"/><rect x="200.75" y="439.25" width="4.8" height="4.4"/><rect x="200.75" y="435.97" width="4.8" height="4.4"/><rect x="200.75" y="431.14" width="4.8" height="4.4"/><rect x="206.72" y="451.36" width="4.8" height="4.4"/><rect x="206.72" y="446.08" width="4.8" height="4.4"/><rect x="206.72" y="441.69" width="4.8" height="4.4"/><rect x="206.72" y="431.04" width="4.8" height="4.4"/><rect x="206.72" y="413.84" width="4.8" height="4.4"/><rect x="212.69" y="449.71" width="4.8" height="4.4"/><rect x="212.69" y="446.56" width="4.8" height="4.4"/><rect x="212.69" y="439.65" width="4.8" height="4.4"/><rect x="212.69" y="436.28" width="4.8" height="4.4"/><rect x="212.69" y="429.16" width="4.8" height="4.4"/><rect x="212.69" y="424.03" width="4.8" height="4.4"/><rect x="218.66" y="451.95" width="4.8" height="4.4"/><rect x="218.66" y="446.32" width="4.8" height="4.4"/><rect x="218.66" y="441.18" width="4.8" height="4.4"/><rect x="218.66" y="435.18" width="4.8" height="4.4"/><rect x="218.66" y="431.22" width="4.8" height="4.4"/><rect x="218.66" y="414.77" width="4.8" height="4.4"/><rect x="224.63" y="451.51" width="4.8" height="4.4"/><rect x="224.63" y="440.67" width="4.8" height="4.4"/><rect x="224.63" y="430.7" width="4.8" height="4.4"/><rect x="224.63" y="426.26" width="4.8" height="4.4"/><rect x="224.63" y="419.12" width="4.8" height="4.4"/><rect x="230.6" y="450.19" width="4.8" height="4.4"/><rect x="230.6" y="446.59" width="4.8" height="4.4"/><rect x="230.6" y="429.8" width="4.8" height="4.4"/><rect x="230.6" y="426.56" width="4.8" height="4.4"/><rect x="236.57" y="450.07" width="4.8" height="4.4"/><rect x="236.57" y="444.25" width="4.8" height="4.4"/><rect x="236.57" y="434.79" width="4.8" height="4.4"/><rect x="236.57" y="429.7" width="4.8" height="4.4"/><rect x="236.57" y="424.46" width="4.8" height="4.4"/><rect x="242.54" y="450.2" width="4.8" height="4.4"/><rect x="242.54" y="444.61" width="4.8" height="4.4"/><rect x="242.54" y="439.74" width="4.8" height="4.4"/><rect x="242.54" y="435.24" width="4.8" height="4.4"/><rect x="242.54" y="430.66" width="4.8" height="4.4"/><rect x="242.54" y="424.97" width="4.8" height="4.4"/><rect x="248.51" y="449.35" width="4.8" height="4.4"/><rect x="248.51" y="445" width="4.8" height="4.4"/><rect x="248.51" y="439.89" width="4.8" height="4.4"/><rect x="248.51" y="435.6" width="4.8" height="4.4"/><rect x="248.51" y="431.48" width="4.8" height="4.4"/><rect x="248.51" y="426.54" width="4.8" height="4.4"/><rect x="254.48" y="450.75" width="4.8" height="4.4"/><rect x="254.48" y="445.08" width="4.8" height="4.4"/><rect x="254.48" y="440.21" width="4.8" height="4.4"/><rect x="254.48" y="436.09" width="4.8" height="4.4"/><rect x="254.48" y="424.78" width="4.8" height="4.4"/><rect x="260.45" y="451.59" width="4.8" height="4.4"/><rect x="260.45" y="445.18" width="4.8" height="4.4"/><rect x="260.45" y="439.47" width="4.8" height="4.4"/><rect x="260.45" y="434.99" width="4.8" height="4.4"/><rect x="260.45" y="430.53" width="4.8" height="4.4"/><rect x="260.45" y="424.14" width="4.8" height="4.4"/><rect x="260.45" y="420.49" width="4.8" height="4.4"/><rect x="266.42" y="450.47" width="4.8" height="4.4"/><rect x="266.42" y="446.61" width="4.8" height="4.4"/><rect x="266.42" y="439.6" width="4.8" height="4.4"/><rect x="266.42" y="434.87" width="4.8" height="4.4"/><rect x="266.42" y="430.95" width="4.8" height="4.4"/><rect x="266.42" y="425.39" width="4.8" height="4.4"/><rect x="272.39" y="451.31" width="4.8" height="4.4"/><rect x="272.39" y="445.84" width="4.8" height="4.4"/><rect x="272.39" y="440.54" width="4.8" height="4.4"/><rect x="272.39" y="434.51" width="4.8" height="4.4"/><rect x="272.39" y="430.48" width="4.8" height="4.4"/><rect x="278.36" y="451.97" width="4.8" height="4.4"/><rect x="278.36" y="446.86" width="4.8" height="4.4"/><rect x="278.36" y="440.33" width="4.8" height="4.4"/><rect x="278.36" y="434.65" width="4.8" height="4.4"/><rect x="284.33" y="450.83" width="4.8" height="4.4"/><rect x="284.33" y="441.23" width="4.8" height="4.4"/><rect x="290.3" y="450.36" width="4.8" height="4.4"/><rect x="290.3" y="445.27" width="4.8" height="4.4"/><rect x="290.3" y="439.69" width="4.8" height="4.4"/><rect x="290.3" y="434.94" width="4.8" height="4.4"/><rect x="290.3" y="430.41" width="4.8" height="4.4"/><rect x="296.27" y="451.58" width="4.8" height="4.4"/><rect x="296.27" y="439.94" width="4.8" height="4.4"/><rect x="296.27" y="436.06" width="4.8" height="4.4"/><rect x="296.27" y="429.82" width="4.8" height="4.4"/><rect x="302.24" y="450.64" width="4.8" height="4.4"/><rect x="302.24" y="444.91" width="4.8" height="4.4"/><rect x="302.24" y="439.74" width="4.8" height="4.4"/><rect x="302.24" y="436.55" width="4.8" height="4.4"/><rect x="302.24" y="429.75" width="4.8" height="4.4"/></g>
<g fill="none" stroke="#4848ec" stroke-width="1.2"><ellipse cx="77.78" cy="408.34" rx="1.85" ry="2.05"/><ellipse cx="101.66" cy="404.4" rx="1.85" ry="2.05"/><ellipse cx="113.6" cy="402.44" rx="1.85" ry="2.05"/><ellipse cx="131.51" cy="399.14" rx="1.85" ry="2.05"/><ellipse cx="125.54" cy="415.56" rx="1.85" ry="2.05"/><ellipse cx="71.81" cy="437.25" rx="1.85" ry="2.05"/><ellipse cx="89.72" cy="428.04" rx="1.85" ry="2.05"/><ellipse cx="95.69" cy="434.63" rx="1.85" ry="2.05"/><ellipse cx="95.69" cy="437.25" rx="1.85" ry="2.05"/><ellipse cx="101.66" cy="430.03" rx="1.85" ry="2.05"/><ellipse cx="101.66" cy="441.19" rx="1.85" ry="2.05"/><ellipse cx="107.63" cy="434.63" rx="1.85" ry="2.05"/><ellipse cx="113.6" cy="434.63" rx="1.85" ry="2.05"/><ellipse cx="113.6" cy="445.14" rx="1.85" ry="2.05"/><ellipse cx="119.57" cy="441.85" rx="1.85" ry="2.05"/><ellipse cx="125.54" cy="430.67" rx="1.85" ry="2.05"/><ellipse cx="125.54" cy="433.96" rx="1.85" ry="2.05"/><ellipse cx="137.48" cy="430.67" rx="1.85" ry="2.05"/><ellipse cx="143.45" cy="434.63" rx="1.85" ry="2.05"/><ellipse cx="143.45" cy="437.25" rx="1.85" ry="2.05"/><ellipse cx="143.45" cy="443.82" rx="1.85" ry="2.05"/><ellipse cx="143.45" cy="448.41" rx="1.85" ry="2.05"/><ellipse cx="89.72" cy="447.11" rx="1.85" ry="2.05"/><ellipse cx="95.69" cy="448.41" rx="1.85" ry="2.05"/><ellipse cx="101.66" cy="448.41" rx="1.85" ry="2.05"/><ellipse cx="89.72" cy="453.67" rx="1.85" ry="2.05"/><ellipse cx="101.66" cy="453.67" rx="1.85" ry="2.05"/><ellipse cx="107.63" cy="453.67" rx="1.85" ry="2.05"/><ellipse cx="119.57" cy="453.67" rx="1.85" ry="2.05"/><ellipse cx="125.54" cy="453.67" rx="1.85" ry="2.05"/><ellipse cx="131.51" cy="450.4" rx="1.85" ry="2.05"/><ellipse cx="131.51" cy="453.03" rx="1.85" ry="2.05"/><ellipse cx="137.48" cy="453.03" rx="1.85" ry="2.05"/><ellipse cx="125.54" cy="283.44" rx="1.85" ry="2.05"/><ellipse cx="131.51" cy="283.44" rx="1.85" ry="2.05"/><ellipse cx="179.27" cy="350.44" rx="1.85" ry="2.05"/><ellipse cx="107.63" cy="381.18" rx="1.85" ry="2.05"/><ellipse cx="113.6" cy="379.42" rx="1.85" ry="2.05"/><ellipse cx="149.42" cy="382.73" rx="1.85" ry="2.05"/><ellipse cx="155.39" cy="381.63" rx="1.85" ry="2.05"/><ellipse cx="209.12" cy="381.18" rx="1.85" ry="2.05"/><ellipse cx="77.78" cy="386.59" rx="1.85" ry="2.05"/><ellipse cx="155.39" cy="412.97" rx="1.85" ry="2.05"/><ellipse cx="173.3" cy="408.96" rx="1.85" ry="2.05"/><ellipse cx="173.3" cy="412.97" rx="1.85" ry="2.05"/><ellipse cx="173.3" cy="419.36" rx="1.85" ry="2.05"/><ellipse cx="137.48" cy="442.53" rx="1.85" ry="2.05"/><ellipse cx="155.39" cy="444.92" rx="1.85" ry="2.05"/><ellipse cx="161.36" cy="442.53" rx="1.85" ry="2.05"/><ellipse cx="167.33" cy="440.93" rx="1.85" ry="2.05"/><ellipse cx="149.42" cy="453.72" rx="1.85" ry="2.05"/><ellipse cx="191.21" cy="396.18" rx="1.85" ry="2.05"/><ellipse cx="185.24" cy="404.98" rx="1.85" ry="2.05"/><ellipse cx="185.24" cy="410.56" rx="1.85" ry="2.05"/><ellipse cx="185.24" cy="417.75" rx="1.85" ry="2.05"/><ellipse cx="203.15" cy="415.36" rx="1.85" ry="2.05"/><ellipse cx="215.09" cy="418.24" rx="1.85" ry="2.05"/><ellipse cx="227.03" cy="422.55" rx="1.85" ry="2.05"/><ellipse cx="238.97" cy="400.65" rx="1.85" ry="2.05"/><ellipse cx="179.27" cy="453.72" rx="1.85" ry="2.05"/><ellipse cx="203.15" cy="453.72" rx="1.85" ry="2.05"/><ellipse cx="215.09" cy="453.72" rx="1.85" ry="2.05"/><ellipse cx="227.03" cy="448.13" rx="1.85" ry="2.05"/><ellipse cx="227.03" cy="452.93" rx="1.85" ry="2.05"/><ellipse cx="233" cy="448.13" rx="1.85" ry="2.05"/><ellipse cx="233" cy="452.93" rx="1.85" ry="2.05"/><ellipse cx="209.12" cy="445.73" rx="1.85" ry="2.05"/><ellipse cx="209.12" cy="448.92" rx="1.85" ry="2.05"/><ellipse cx="197.18" cy="448.13" rx="1.85" ry="2.05"/><ellipse cx="238.97" cy="448.13" rx="1.85" ry="2.05"/><ellipse cx="274.79" cy="396.8" rx="1.85" ry="2.05"/><ellipse cx="286.73" cy="390.87" rx="1.85" ry="2.05"/><ellipse cx="256.88" cy="411.17" rx="1.85" ry="2.05"/><ellipse cx="268.82" cy="419.63" rx="1.85" ry="2.05"/><ellipse cx="280.76" cy="419.09" rx="1.85" ry="2.05"/><ellipse cx="298.67" cy="421.43" rx="1.85" ry="2.05"/><ellipse cx="310.61" cy="408.85" rx="1.85" ry="2.05"/><ellipse cx="316.58" cy="442.09" rx="1.85" ry="2.05"/><ellipse cx="256.88" cy="426.28" rx="1.85" ry="2.05"/><ellipse cx="173.3" cy="453.09" rx="1.85" ry="2.05"/><ellipse cx="185.24" cy="453.09" rx="1.85" ry="2.05"/><ellipse cx="203.15" cy="437" rx="1.85" ry="2.05"/><ellipse cx="215.09" cy="434.27" rx="1.85" ry="2.05"/><ellipse cx="244.94" cy="453.09" rx="1.85" ry="2.05"/><ellipse cx="256.88" cy="453.09" rx="1.85" ry="2.05"/><ellipse cx="262.85" cy="453.09" rx="1.85" ry="2.05"/><ellipse cx="268.82" cy="453.09" rx="1.85" ry="2.05"/><ellipse cx="268.82" cy="435.98" rx="1.85" ry="2.05"/><ellipse cx="274.79" cy="453.09" rx="1.85" ry="2.05"/><ellipse cx="274.79" cy="440.12" rx="1.85" ry="2.05"/><ellipse cx="292.7" cy="453.09" rx="1.85" ry="2.05"/><ellipse cx="298.67" cy="453.09" rx="1.85" ry="2.05"/><ellipse cx="298.67" cy="439.97" rx="1.85" ry="2.05"/><ellipse cx="304.64" cy="453.09" rx="1.85" ry="2.05"/></g>
<polyline points="53.7,409.5 65.4,410.5 77,411.7 88.7,413.1 100.4,414.3 109,414.9 120.8,416.1 132.5,417.5 142,418.7 160,421 180,424.5 200,428 220,430.5 240,431.5 260,431.5 280,431 298.2,430.7" fill="none" stroke="#1a631a" stroke-width="1.7" stroke-dasharray="5.5 4.5"/>
<polyline points="53.7,421.2 71.2,419.5 88,421 110,422.5 130,423.5 142,424 160,426.5 180,430 200,433 220,435.5 240,436 260,436 280,435.5 298,435" fill="none" stroke="#1a631a" stroke-width="1.7" stroke-dasharray="5.5 4.5"/>
<polyline points="53.7,432.1 65.4,429.2 77,427 88.7,425.1 100,424.5 120,425.5 142,428 160,431 180,434.5 200,437.5 220,440 240,440.5 260,440.5 280,440 298,439.5" fill="none" stroke="#1a631a" stroke-width="1.7" stroke-dasharray="5.5 4.5"/>
<polyline points="71.2,415.3 85.8,417.5 100.4,419 115,419.7 129.6,420.4 138,421.2 152.6,421.9 167.2,424.1 181.8,427 196.4,429.9 211,431.8 225.6,433.3 234,433.9 248.6,433.3 263.2,432.4 277.8,429.9 284,428.5 286.6,426.3 295.3,424.8 299.7,421.9 304.8,418.2" fill="none" stroke="#0c0cf0" stroke-width="2.0"/>
<polyline points="71.2,429.9 85.8,427.7 100.4,426.7 115,426 129.6,426 138,426.3 152.6,428.5 167.2,430.7 181.8,433.6 196.4,436.5 211,438.2 225.6,439 234,438.6 248.6,438.2 263.2,438 277.8,437.2 289.5,436.5 295.3,435.8 304.8,433.9" fill="none" stroke="#0c0cf0" stroke-width="2.0"/>
<polyline points="71.2,443.8 80,439.4 90.2,435 100.4,432.8 115,431 129.6,430.7 138,430.7 152.6,432.1 167.2,434.3 181.8,437.2 196.4,440.1 211,442.3 225.6,443.2 234,443 248.6,443.1 263.2,443.8 277.8,444.5 292.4,446 304,448.2" fill="none" stroke="#0c0cf0" stroke-width="2.0"/>
<rect x="42.6" y="276.3" width="291.1" height="184.3" fill="none" stroke="#505050" stroke-width="1.3"/>
<line x1="36.6" x2="42.6" y1="453.2" y2="453.2" stroke="#505050" stroke-width="1.3"/>
<text x="27.3" y="453.2" transform="rotate(-90 27.3 453.2)" text-anchor="middle" font-size="10.2" textLength="14.18" lengthAdjust="spacingAndGlyphs" fill="#222222">0.0</text>
<line x1="36.6" x2="42.6" y1="419.28" y2="419.28" stroke="#505050" stroke-width="1.3"/>
<text x="27.3" y="419.28" transform="rotate(-90 27.3 419.28)" text-anchor="middle" font-size="10.2" textLength="14.18" lengthAdjust="spacingAndGlyphs" fill="#222222">0.2</text>
<line x1="36.6" x2="42.6" y1="385.36" y2="385.36" stroke="#505050" stroke-width="1.3"/>
<text x="27.3" y="385.36" transform="rotate(-90 27.3 385.36)" text-anchor="middle" font-size="10.2" textLength="14.18" lengthAdjust="spacingAndGlyphs" fill="#222222">0.4</text>
<line x1="36.6" x2="42.6" y1="351.44" y2="351.44" stroke="#505050" stroke-width="1.3"/>
<text x="27.3" y="351.44" transform="rotate(-90 27.3 351.44)" text-anchor="middle" font-size="10.2" textLength="14.18" lengthAdjust="spacingAndGlyphs" fill="#222222">0.6</text>
<line x1="36.6" x2="42.6" y1="317.52" y2="317.52" stroke="#505050" stroke-width="1.3"/>
<text x="27.3" y="317.52" transform="rotate(-90 27.3 317.52)" text-anchor="middle" font-size="10.2" textLength="14.18" lengthAdjust="spacingAndGlyphs" fill="#222222">0.8</text>
<line x1="36.6" x2="42.6" y1="283.6" y2="283.6" stroke="#505050" stroke-width="1.3"/>
<text x="27.3" y="283.6" transform="rotate(-90 27.3 283.6)" text-anchor="middle" font-size="10.2" textLength="14.18" lengthAdjust="spacingAndGlyphs" fill="#222222">1.0</text>
<line x1="53.9" x2="53.9" y1="460.6" y2="466.6" stroke="#505050" stroke-width="1.3"/>
<text x="53.9" y="483.3" text-anchor="middle" font-size="11.32" textLength="11.34" lengthAdjust="spacingAndGlyphs" fill="#222222">20</text>
<line x1="113.6" x2="113.6" y1="460.6" y2="466.6" stroke="#505050" stroke-width="1.3"/>
<text x="113.6" y="483.3" text-anchor="middle" font-size="11.32" textLength="11.34" lengthAdjust="spacingAndGlyphs" fill="#222222">30</text>
<line x1="173.3" x2="173.3" y1="460.6" y2="466.6" stroke="#505050" stroke-width="1.3"/>
<text x="173.3" y="483.3" text-anchor="middle" font-size="11.32" textLength="11.34" lengthAdjust="spacingAndGlyphs" fill="#222222">40</text>
<line x1="233" x2="233" y1="460.6" y2="466.6" stroke="#505050" stroke-width="1.3"/>
<text x="233" y="483.3" text-anchor="middle" font-size="11.32" textLength="11.34" lengthAdjust="spacingAndGlyphs" fill="#222222">50</text>
<line x1="292.7" x2="292.7" y1="460.6" y2="466.6" stroke="#505050" stroke-width="1.3"/>
<text x="292.7" y="483.3" text-anchor="middle" font-size="11.32" textLength="11.34" lengthAdjust="spacingAndGlyphs" fill="#222222">60</text>
<text x="188.15" y="497.3" text-anchor="middle" font-size="11.32" textLength="56.69" lengthAdjust="spacingAndGlyphs" fill="#222222">Age in years</text>
<text x="9.8" y="368.45" transform="rotate(-90 9.8 368.45)" text-anchor="middle" font-size="10.3" textLength="152.09" lengthAdjust="spacingAndGlyphs" fill="#222222">Incidence of RTI in person weeks</text>
<text x="0" y="269.5" font-size="19.6" font-weight="bold" textLength="10.03" lengthAdjust="spacingAndGlyphs" fill="#000">c</text>
<rect x="215.4" y="276.7" width="118.3" height="49.1" fill="#fff" stroke="#505050" stroke-width="1.3"/>
<line x1="217.9" x2="234.9" y1="287" y2="287" stroke="#1d6b1d" stroke-width="1.6" stroke-dasharray="6 4.5"/>
<rect x="223.2" y="295.2" width="3.6" height="3.6" fill="none" stroke="#22f022" stroke-width="1.6"/>
<line x1="217.9" x2="234.4" y1="306.7" y2="306.7" stroke="#0c0cf0" stroke-width="1.7"/>
<circle cx="225" cy="317.1" r="1.75" fill="none" stroke="#0c0cf0" stroke-width="1.5"/>
<text x="239.6" y="290.4" font-size="9.38" textLength="89.22" lengthAdjust="spacingAndGlyphs" fill="#2a2a2a">Females loess / 95% CI</text>
<text x="239.6" y="300.4" font-size="9.38" textLength="32.4" lengthAdjust="spacingAndGlyphs" fill="#2a2a2a">Females</text>
<text x="239.6" y="310.1" font-size="9.38" textLength="79.36" lengthAdjust="spacingAndGlyphs" fill="#2a2a2a">Males loess / 95% CI</text>
<text x="239.6" y="320.5" font-size="9.38" textLength="22.54" lengthAdjust="spacingAndGlyphs" fill="#2a2a2a">Males</text>
<g fill="none" stroke="#2ef02e" stroke-width="1.15"><rect x="431.43" y="281.84" width="4.8" height="4.4"/><rect x="555.85" y="281.84" width="4.8" height="4.4"/><rect x="490.68" y="366.72" width="4.8" height="4.4"/><rect x="490.68" y="389.3" width="4.8" height="4.4"/><rect x="514.38" y="394.82" width="4.8" height="4.4"/><rect x="461.05" y="409.19" width="4.8" height="4.4"/><rect x="472.9" y="409.19" width="4.8" height="4.4"/><rect x="443.28" y="417.22" width="4.8" height="4.4"/><rect x="449.2" y="421.88" width="4.8" height="4.4"/><rect x="455.12" y="426.26" width="4.8" height="4.4"/><rect x="455.12" y="430.65" width="4.8" height="4.4"/><rect x="449.2" y="430.21" width="4.8" height="4.4"/><rect x="461.05" y="432.84" width="4.8" height="4.4"/><rect x="466.98" y="432.84" width="4.8" height="4.4"/><rect x="466.98" y="437.22" width="4.8" height="4.4"/><rect x="478.82" y="424.81" width="4.8" height="4.4"/><rect x="478.82" y="427.72" width="4.8" height="4.4"/><rect x="478.82" y="433.56" width="4.8" height="4.4"/><rect x="478.82" y="437.22" width="4.8" height="4.4"/><rect x="490.68" y="421.88" width="4.8" height="4.4"/><rect x="490.68" y="427.72" width="4.8" height="4.4"/><rect x="490.68" y="432.84" width="4.8" height="4.4"/><rect x="437.35" y="435.03" width="4.8" height="4.4"/><rect x="401.8" y="450.36" width="4.8" height="4.4"/><rect x="407.73" y="449.62" width="4.8" height="4.4"/><rect x="413.65" y="445.97" width="4.8" height="4.4"/><rect x="419.57" y="444.52" width="4.8" height="4.4"/><rect x="419.57" y="450.36" width="4.8" height="4.4"/><rect x="425.5" y="441.59" width="4.8" height="4.4"/><rect x="431.43" y="450.36" width="4.8" height="4.4"/><rect x="443.28" y="440.13" width="4.8" height="4.4"/><rect x="496.6" y="440.13" width="4.8" height="4.4"/><rect x="508.45" y="435.03" width="4.8" height="4.4"/><rect x="514.38" y="432.1" width="4.8" height="4.4"/><rect x="532.15" y="435.03" width="4.8" height="4.4"/><rect x="532.15" y="437.22" width="4.8" height="4.4"/><rect x="538.08" y="437.94" width="4.8" height="4.4"/><rect x="544" y="431.09" width="4.8" height="4.4"/><rect x="549.93" y="427" width="4.8" height="4.4"/><rect x="555.85" y="419.7" width="4.8" height="4.4"/><rect x="555.85" y="424.81" width="4.8" height="4.4"/><rect x="555.85" y="436.49" width="4.8" height="4.4"/><rect x="561.77" y="437.22" width="4.8" height="4.4"/><rect x="579.55" y="417.51" width="4.8" height="4.4"/><rect x="573.62" y="439.4" width="4.8" height="4.4"/><rect x="585.48" y="436.49" width="4.8" height="4.4"/><rect x="591.4" y="434.3" width="4.8" height="4.4"/><rect x="591.4" y="440.13" width="4.8" height="4.4"/><rect x="597.33" y="432.1" width="4.8" height="4.4"/><rect x="603.25" y="429.19" width="4.8" height="4.4"/><rect x="603.25" y="432.1" width="4.8" height="4.4"/><rect x="603.25" y="439.4" width="4.8" height="4.4"/><rect x="609.18" y="440.87" width="4.8" height="4.4"/><rect x="615.1" y="423.79" width="4.8" height="4.4"/><rect x="615.1" y="433.56" width="4.8" height="4.4"/><rect x="626.95" y="436.05" width="4.8" height="4.4"/><rect x="632.88" y="427" width="4.8" height="4.4"/><rect x="632.88" y="429.91" width="4.8" height="4.4"/><rect x="638.8" y="436.05" width="4.8" height="4.4"/><rect x="644.73" y="440.87" width="4.8" height="4.4"/><rect x="650.65" y="427" width="4.8" height="4.4"/><rect x="650.65" y="440.87" width="4.8" height="4.4"/><rect x="662.5" y="450.65" width="4.8" height="4.4"/><rect x="407.73" y="446.49" width="4.8" height="4.4"/><rect x="413.65" y="450.7" width="4.8" height="4.4"/><rect x="419.57" y="446.49" width="4.8" height="4.4"/><rect x="425.5" y="450.7" width="4.8" height="4.4"/><rect x="425.5" y="446.49" width="4.8" height="4.4"/><rect x="431.43" y="446.49" width="4.8" height="4.4"/><rect x="431.43" y="442.28" width="4.8" height="4.4"/><rect x="437.35" y="450.7" width="4.8" height="4.4"/><rect x="437.35" y="446.49" width="4.8" height="4.4"/><rect x="437.35" y="442.28" width="4.8" height="4.4"/><rect x="443.28" y="450.7" width="4.8" height="4.4"/><rect x="443.28" y="446.49" width="4.8" height="4.4"/><rect x="443.28" y="442.28" width="4.8" height="4.4"/><rect x="443.28" y="438.07" width="4.8" height="4.4"/><rect x="449.2" y="450.7" width="4.8" height="4.4"/><rect x="449.2" y="446.49" width="4.8" height="4.4"/><rect x="449.2" y="442.28" width="4.8" height="4.4"/><rect x="455.12" y="450.7" width="4.8" height="4.4"/><rect x="455.12" y="446.49" width="4.8" height="4.4"/><rect x="455.12" y="442.28" width="4.8" height="4.4"/><rect x="461.05" y="450.7" width="4.8" height="4.4"/><rect x="461.05" y="446.49" width="4.8" height="4.4"/><rect x="461.05" y="442.28" width="4.8" height="4.4"/><rect x="466.98" y="450.7" width="4.8" height="4.4"/><rect x="466.98" y="446.49" width="4.8" height="4.4"/><rect x="466.98" y="442.28" width="4.8" height="4.4"/><rect x="472.9" y="450.7" width="4.8" height="4.4"/><rect x="472.9" y="446.49" width="4.8" height="4.4"/><rect x="472.9" y="442.28" width="4.8" height="4.4"/><rect x="472.9" y="438.07" width="4.8" height="4.4"/><rect x="478.82" y="450.7" width="4.8" height="4.4"/><rect x="478.82" y="446.49" width="4.8" height="4.4"/><rect x="478.82" y="442.28" width="4.8" height="4.4"/><rect x="484.75" y="450.7" width="4.8" height="4.4"/><rect x="484.75" y="446.49" width="4.8" height="4.4"/><rect x="484.75" y="442.28" width="4.8" height="4.4"/><rect x="484.75" y="438.07" width="4.8" height="4.4"/><rect x="490.68" y="450.7" width="4.8" height="4.4"/><rect x="490.68" y="446.49" width="4.8" height="4.4"/><rect x="490.68" y="442.28" width="4.8" height="4.4"/><rect x="496.6" y="450.7" width="4.8" height="4.4"/><rect x="496.6" y="446.49" width="4.8" height="4.4"/><rect x="496.6" y="442.28" width="4.8" height="4.4"/><rect x="502.52" y="450.7" width="4.8" height="4.4"/><rect x="502.52" y="446.49" width="4.8" height="4.4"/><rect x="502.52" y="442.28" width="4.8" height="4.4"/><rect x="502.52" y="438.07" width="4.8" height="4.4"/><rect x="508.45" y="450.7" width="4.8" height="4.4"/><rect x="508.45" y="446.49" width="4.8" height="4.4"/><rect x="508.45" y="442.28" width="4.8" height="4.4"/><rect x="508.45" y="438.07" width="4.8" height="4.4"/><rect x="514.38" y="450.7" width="4.8" height="4.4"/><rect x="514.38" y="446.49" width="4.8" height="4.4"/><rect x="514.38" y="442.28" width="4.8" height="4.4"/><rect x="514.38" y="438.07" width="4.8" height="4.4"/><rect x="520.3" y="450.7" width="4.8" height="4.4"/><rect x="520.3" y="446.49" width="4.8" height="4.4"/><rect x="520.3" y="442.28" width="4.8" height="4.4"/><rect x="526.23" y="450.7" width="4.8" height="4.4"/><rect x="526.23" y="446.49" width="4.8" height="4.4"/><rect x="526.23" y="442.28" width="4.8" height="4.4"/><rect x="532.15" y="450.7" width="4.8" height="4.4"/><rect x="532.15" y="446.49" width="4.8" height="4.4"/><rect x="532.15" y="442.28" width="4.8" height="4.4"/><rect x="538.08" y="450.7" width="4.8" height="4.4"/><rect x="538.08" y="446.49" width="4.8" height="4.4"/><rect x="538.08" y="442.28" width="4.8" height="4.4"/><rect x="544" y="450.7" width="4.8" height="4.4"/><rect x="544" y="446.49" width="4.8" height="4.4"/><rect x="544" y="442.28" width="4.8" height="4.4"/><rect x="544" y="438.07" width="4.8" height="4.4"/><rect x="549.93" y="450.7" width="4.8" height="4.4"/><rect x="549.93" y="446.49" width="4.8" height="4.4"/><rect x="549.93" y="442.28" width="4.8" height="4.4"/><rect x="555.85" y="450.7" width="4.8" height="4.4"/><rect x="555.85" y="446.49" width="4.8" height="4.4"/><rect x="555.85" y="442.28" width="4.8" height="4.4"/><rect x="561.77" y="450.7" width="4.8" height="4.4"/><rect x="561.77" y="446.49" width="4.8" height="4.4"/><rect x="561.77" y="442.28" width="4.8" height="4.4"/><rect x="567.7" y="450.7" width="4.8" height="4.4"/><rect x="567.7" y="446.49" width="4.8" height="4.4"/><rect x="567.7" y="442.28" width="4.8" height="4.4"/><rect x="573.62" y="450.7" width="4.8" height="4.4"/><rect x="573.62" y="446.49" width="4.8" height="4.4"/><rect x="573.62" y="442.28" width="4.8" height="4.4"/><rect x="579.55" y="450.7" width="4.8" height="4.4"/><rect x="579.55" y="446.49" width="4.8" height="4.4"/><rect x="579.55" y="442.28" width="4.8" height="4.4"/><rect x="579.55" y="438.07" width="4.8" height="4.4"/><rect x="585.48" y="450.7" width="4.8" height="4.4"/><rect x="585.48" y="446.49" width="4.8" height="4.4"/><rect x="585.48" y="442.28" width="4.8" height="4.4"/><rect x="591.4" y="450.7" width="4.8" height="4.4"/><rect x="591.4" y="446.49" width="4.8" height="4.4"/><rect x="591.4" y="442.28" width="4.8" height="4.4"/><rect x="597.33" y="450.7" width="4.8" height="4.4"/><rect x="597.33" y="446.49" width="4.8" height="4.4"/><rect x="597.33" y="442.28" width="4.8" height="4.4"/><rect x="597.33" y="438.07" width="4.8" height="4.4"/><rect x="603.25" y="450.7" width="4.8" height="4.4"/><rect x="603.25" y="446.49" width="4.8" height="4.4"/><rect x="603.25" y="442.28" width="4.8" height="4.4"/><rect x="609.18" y="450.7" width="4.8" height="4.4"/><rect x="609.18" y="446.49" width="4.8" height="4.4"/><rect x="615.1" y="450.7" width="4.8" height="4.4"/><rect x="615.1" y="446.49" width="4.8" height="4.4"/><rect x="615.1" y="442.28" width="4.8" height="4.4"/><rect x="621.02" y="450.7" width="4.8" height="4.4"/><rect x="621.02" y="446.49" width="4.8" height="4.4"/><rect x="621.02" y="442.28" width="4.8" height="4.4"/><rect x="621.02" y="438.07" width="4.8" height="4.4"/><rect x="626.95" y="450.7" width="4.8" height="4.4"/><rect x="626.95" y="446.49" width="4.8" height="4.4"/><rect x="626.95" y="442.28" width="4.8" height="4.4"/><rect x="632.88" y="450.7" width="4.8" height="4.4"/><rect x="632.88" y="446.49" width="4.8" height="4.4"/><rect x="632.88" y="442.28" width="4.8" height="4.4"/><rect x="638.8" y="450.7" width="4.8" height="4.4"/><rect x="638.8" y="446.49" width="4.8" height="4.4"/><rect x="638.8" y="442.28" width="4.8" height="4.4"/><rect x="644.73" y="450.7" width="4.8" height="4.4"/><rect x="644.73" y="446.49" width="4.8" height="4.4"/><rect x="650.65" y="450.7" width="4.8" height="4.4"/><rect x="650.65" y="446.49" width="4.8" height="4.4"/><rect x="650.65" y="438.07" width="4.8" height="4.4"/></g>
<g fill="none" stroke="#4848ec" stroke-width="1.2"><ellipse cx="475.3" cy="396.95" rx="1.85" ry="2.05"/><ellipse cx="427.9" cy="441.08" rx="1.85" ry="2.05"/><ellipse cx="439.75" cy="438.89" rx="1.85" ry="2.05"/><ellipse cx="451.6" cy="437.87" rx="1.85" ry="2.05"/><ellipse cx="493.07" cy="443.27" rx="1.85" ry="2.05"/><ellipse cx="504.92" cy="441.8" rx="1.85" ry="2.05"/><ellipse cx="522.7" cy="439.33" rx="1.85" ry="2.05"/><ellipse cx="534.55" cy="438.89" rx="1.85" ry="2.05"/><ellipse cx="534.55" cy="441.8" rx="1.85" ry="2.05"/><ellipse cx="558.25" cy="434.5" rx="1.85" ry="2.05"/><ellipse cx="564.17" cy="443.27" rx="1.85" ry="2.05"/><ellipse cx="576.02" cy="445.46" rx="1.85" ry="2.05"/><ellipse cx="593.8" cy="431.59" rx="1.85" ry="2.05"/><ellipse cx="623.42" cy="441.8" rx="1.85" ry="2.05"/><ellipse cx="629.35" cy="443.27" rx="1.85" ry="2.05"/><ellipse cx="647.12" cy="445.46" rx="1.85" ry="2.05"/><ellipse cx="664.9" cy="445.17" rx="1.85" ry="2.05"/><ellipse cx="658.98" cy="453.05" rx="1.85" ry="2.05"/><ellipse cx="587.88" cy="443.99" rx="1.85" ry="2.05"/><ellipse cx="421.97" cy="453.1" rx="1.85" ry="2.05"/><ellipse cx="421.97" cy="448.99" rx="1.85" ry="2.05"/><ellipse cx="427.9" cy="453.1" rx="1.85" ry="2.05"/><ellipse cx="427.9" cy="446.68" rx="1.85" ry="2.05"/><ellipse cx="433.82" cy="453.1" rx="1.85" ry="2.05"/><ellipse cx="439.75" cy="453.1" rx="1.85" ry="2.05"/><ellipse cx="439.75" cy="445.61" rx="1.85" ry="2.05"/><ellipse cx="445.68" cy="453.1" rx="1.85" ry="2.05"/><ellipse cx="445.68" cy="447.31" rx="1.85" ry="2.05"/><ellipse cx="451.6" cy="453.1" rx="1.85" ry="2.05"/><ellipse cx="451.6" cy="444.82" rx="1.85" ry="2.05"/><ellipse cx="457.52" cy="453.1" rx="1.85" ry="2.05"/><ellipse cx="463.45" cy="453.1" rx="1.85" ry="2.05"/><ellipse cx="463.45" cy="445.76" rx="1.85" ry="2.05"/><ellipse cx="469.38" cy="453.1" rx="1.85" ry="2.05"/><ellipse cx="475.3" cy="453.1" rx="1.85" ry="2.05"/><ellipse cx="475.3" cy="448.82" rx="1.85" ry="2.05"/><ellipse cx="481.22" cy="445.91" rx="1.85" ry="2.05"/><ellipse cx="493.07" cy="453.1" rx="1.85" ry="2.05"/><ellipse cx="493.07" cy="447.09" rx="1.85" ry="2.05"/><ellipse cx="499" cy="453.1" rx="1.85" ry="2.05"/><ellipse cx="499" cy="445.96" rx="1.85" ry="2.05"/><ellipse cx="504.92" cy="453.1" rx="1.85" ry="2.05"/><ellipse cx="510.85" cy="453.1" rx="1.85" ry="2.05"/><ellipse cx="516.77" cy="453.1" rx="1.85" ry="2.05"/><ellipse cx="516.77" cy="446.65" rx="1.85" ry="2.05"/><ellipse cx="522.7" cy="445.07" rx="1.85" ry="2.05"/><ellipse cx="528.62" cy="453.1" rx="1.85" ry="2.05"/><ellipse cx="528.62" cy="448.13" rx="1.85" ry="2.05"/><ellipse cx="534.55" cy="453.1" rx="1.85" ry="2.05"/><ellipse cx="534.55" cy="448.99" rx="1.85" ry="2.05"/><ellipse cx="540.48" cy="453.1" rx="1.85" ry="2.05"/><ellipse cx="546.4" cy="453.1" rx="1.85" ry="2.05"/><ellipse cx="546.4" cy="444.75" rx="1.85" ry="2.05"/><ellipse cx="552.33" cy="453.1" rx="1.85" ry="2.05"/><ellipse cx="558.25" cy="453.1" rx="1.85" ry="2.05"/><ellipse cx="564.17" cy="453.1" rx="1.85" ry="2.05"/><ellipse cx="570.1" cy="453.1" rx="1.85" ry="2.05"/><ellipse cx="570.1" cy="445.1" rx="1.85" ry="2.05"/><ellipse cx="576.02" cy="453.1" rx="1.85" ry="2.05"/><ellipse cx="581.95" cy="453.1" rx="1.85" ry="2.05"/><ellipse cx="581.95" cy="446.05" rx="1.85" ry="2.05"/><ellipse cx="593.8" cy="453.1" rx="1.85" ry="2.05"/><ellipse cx="593.8" cy="447.54" rx="1.85" ry="2.05"/><ellipse cx="599.73" cy="453.1" rx="1.85" ry="2.05"/><ellipse cx="605.65" cy="453.1" rx="1.85" ry="2.05"/><ellipse cx="623.42" cy="453.1" rx="1.85" ry="2.05"/><ellipse cx="629.35" cy="453.1" rx="1.85" ry="2.05"/><ellipse cx="629.35" cy="447.69" rx="1.85" ry="2.05"/><ellipse cx="635.27" cy="453.1" rx="1.85" ry="2.05"/><ellipse cx="635.27" cy="444.75" rx="1.85" ry="2.05"/><ellipse cx="647.12" cy="453.1" rx="1.85" ry="2.05"/><ellipse cx="647.12" cy="449.28" rx="1.85" ry="2.05"/><ellipse cx="653.05" cy="453.1" rx="1.85" ry="2.05"/><ellipse cx="658.98" cy="445.76" rx="1.85" ry="2.05"/></g>
<polyline points="404.2,438.7 416.4,439.4 428,440.9 445,442.5 470,443.5 500,444 540,444.5 580,444.5 620,444.5 650,444" fill="none" stroke="#1a631a" stroke-width="1.7" stroke-dasharray="5.5 4.5"/>
<polyline points="404.2,445.3 420,445.8 440,446.5 470,447 520,447.5 580,447.8 650,448" fill="none" stroke="#1a631a" stroke-width="1.7" stroke-dasharray="5.5 4.5"/>
<polyline points="404.2,451.8 416.4,450.4 430,449.5 460,449.8 520,450.5 580,451 650,451.5" fill="none" stroke="#1a631a" stroke-width="1.7" stroke-dasharray="5.5 4.5"/>
<polyline points="422,445.8 440,446 470,446.3 520,446.5 580,446.7 620,446.5 653.6,446.3" fill="none" stroke="#0c0cf0" stroke-width="2.1"/>
<polyline points="422,448.3 450,448.5 500,448.7 580,448.9 653.6,448.6" fill="none" stroke="#0c0cf0" stroke-width="2.1"/>
<polyline points="422,450.9 450,450.9 500,451 580,451 653.6,450.8" fill="none" stroke="#0c0cf0" stroke-width="2.1"/>
<rect x="393.2" y="277.8" width="289.2" height="182.7" fill="none" stroke="#505050" stroke-width="1.3"/>
<line x1="387.2" x2="393.2" y1="453.2" y2="453.2" stroke="#505050" stroke-width="1.3"/>
<text x="379.3" y="453.2" transform="rotate(-90 379.3 453.2)" text-anchor="middle" font-size="10.2" textLength="14.18" lengthAdjust="spacingAndGlyphs" fill="#222222">0.0</text>
<line x1="387.2" x2="393.2" y1="419.54" y2="419.54" stroke="#505050" stroke-width="1.3"/>
<text x="379.3" y="419.54" transform="rotate(-90 379.3 419.54)" text-anchor="middle" font-size="10.2" textLength="14.18" lengthAdjust="spacingAndGlyphs" fill="#222222">0.2</text>
<line x1="387.2" x2="393.2" y1="385.88" y2="385.88" stroke="#505050" stroke-width="1.3"/>
<text x="379.3" y="385.88" transform="rotate(-90 379.3 385.88)" text-anchor="middle" font-size="10.2" textLength="14.18" lengthAdjust="spacingAndGlyphs" fill="#222222">0.4</text>
<line x1="387.2" x2="393.2" y1="352.22" y2="352.22" stroke="#505050" stroke-width="1.3"/>
<text x="379.3" y="352.22" transform="rotate(-90 379.3 352.22)" text-anchor="middle" font-size="10.2" textLength="14.18" lengthAdjust="spacingAndGlyphs" fill="#222222">0.6</text>
<line x1="387.2" x2="393.2" y1="318.56" y2="318.56" stroke="#505050" stroke-width="1.3"/>
<text x="379.3" y="318.56" transform="rotate(-90 379.3 318.56)" text-anchor="middle" font-size="10.2" textLength="14.18" lengthAdjust="spacingAndGlyphs" fill="#222222">0.8</text>
<line x1="387.2" x2="393.2" y1="284.9" y2="284.9" stroke="#505050" stroke-width="1.3"/>
<text x="379.3" y="284.9" transform="rotate(-90 379.3 284.9)" text-anchor="middle" font-size="10.2" textLength="14.18" lengthAdjust="spacingAndGlyphs" fill="#222222">1.0</text>
<line x1="404.2" x2="404.2" y1="460.5" y2="466.5" stroke="#505050" stroke-width="1.3"/>
<text x="404.2" y="483.3" text-anchor="middle" font-size="11.32" textLength="11.34" lengthAdjust="spacingAndGlyphs" fill="#222222">20</text>
<line x1="463.45" x2="463.45" y1="460.5" y2="466.5" stroke="#505050" stroke-width="1.3"/>
<text x="463.45" y="483.3" text-anchor="middle" font-size="11.32" textLength="11.34" lengthAdjust="spacingAndGlyphs" fill="#222222">30</text>
<line x1="522.7" x2="522.7" y1="460.5" y2="466.5" stroke="#505050" stroke-width="1.3"/>
<text x="522.7" y="483.3" text-anchor="middle" font-size="11.32" textLength="11.34" lengthAdjust="spacingAndGlyphs" fill="#222222">40</text>
<line x1="581.95" x2="581.95" y1="460.5" y2="466.5" stroke="#505050" stroke-width="1.3"/>
<text x="581.95" y="483.3" text-anchor="middle" font-size="11.32" textLength="11.34" lengthAdjust="spacingAndGlyphs" fill="#222222">50</text>
<line x1="641.2" x2="641.2" y1="460.5" y2="466.5" stroke="#505050" stroke-width="1.3"/>
<text x="641.2" y="483.3" text-anchor="middle" font-size="11.32" textLength="11.34" lengthAdjust="spacingAndGlyphs" fill="#222222">60</text>
<text x="537.8" y="497.3" text-anchor="middle" font-size="11.32" textLength="56.69" lengthAdjust="spacingAndGlyphs" fill="#222222">Age in years</text>
<text x="360.6" y="369.15" transform="rotate(-90 360.6 369.15)" text-anchor="middle" font-size="10.1" textLength="144.83" lengthAdjust="spacingAndGlyphs" fill="#222222">Incidence of GTI / person weeks</text>
<text x="354.6" y="269.5" font-size="19.6" font-weight="bold" textLength="11.02" lengthAdjust="spacingAndGlyphs" fill="#000">d</text>
<rect x="564" y="277.8" width="117.5" height="49" fill="#fff" stroke="#505050" stroke-width="1.3"/>
<line x1="566.5" x2="583.5" y1="288.1" y2="288.1" stroke="#1d6b1d" stroke-width="1.6" stroke-dasharray="6 4.5"/>
<rect x="571.8" y="296.3" width="3.6" height="3.6" fill="none" stroke="#22f022" stroke-width="1.6"/>
<line x1="566.5" x2="583" y1="307.8" y2="307.8" stroke="#0c0cf0" stroke-width="1.7"/>
<circle cx="573.6" cy="318.2" r="1.75" fill="none" stroke="#0c0cf0" stroke-width="1.5"/>
<text x="587.9" y="291.5" font-size="9.32" textLength="88.7" lengthAdjust="spacingAndGlyphs" fill="#2a2a2a">Females loess / 95% CI</text>
<text x="587.9" y="301.5" font-size="9.32" textLength="32.21" lengthAdjust="spacingAndGlyphs" fill="#2a2a2a">Females</text>
<text x="587.9" y="311.2" font-size="9.32" textLength="78.89" lengthAdjust="spacingAndGlyphs" fill="#2a2a2a">Males loess / 95% CI</text>
<text x="587.9" y="321.6" font-size="9.32" textLength="22.41" lengthAdjust="spacingAndGlyphs" fill="#2a2a2a">Males</text>
</svg>
</body></html>
